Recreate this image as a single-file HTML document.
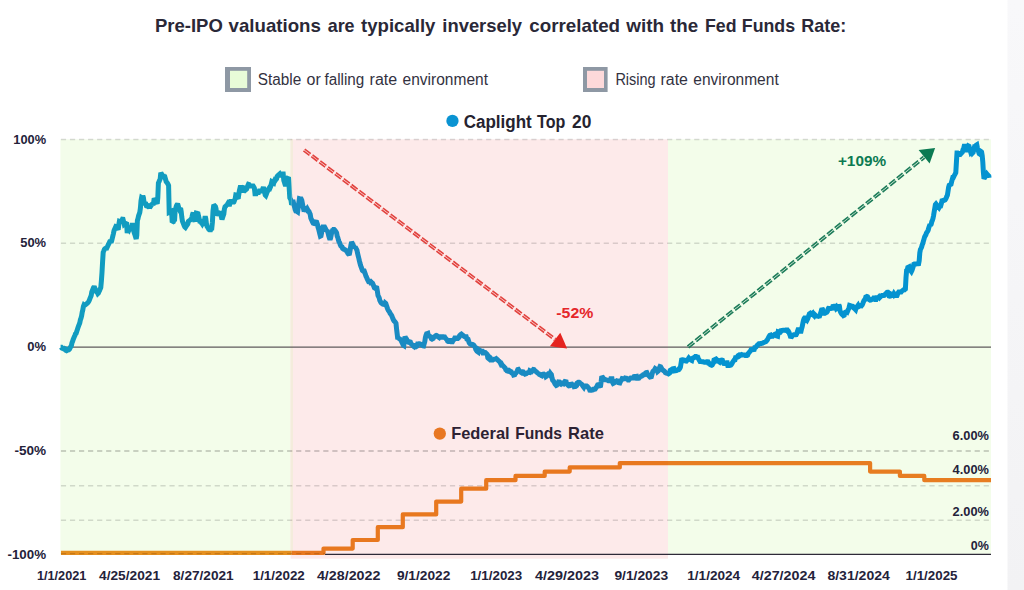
<!DOCTYPE html>
<html><head><meta charset="utf-8">
<style>
html,body{margin:0;padding:0;background:#fff;}
body{width:1024px;height:590px;overflow:hidden;position:relative;font-family:"Liberation Sans",sans-serif;}
svg{position:absolute;left:0;top:0;}
text{font-family:"Liberation Sans",sans-serif;}
</style></head><body>
<svg width="1024" height="590" viewBox="0 0 1024 590">
<defs>
<clipPath id="c1"><rect x="0" y="0" width="291.7" height="590"/></clipPath>
<clipPath id="c2"><rect x="291.7" y="0" width="376.3" height="590"/></clipPath>
<clipPath id="c3"><rect x="668" y="0" width="356" height="590"/></clipPath>
<linearGradient id="sg" x1="0" y1="0" x2="0" y2="1"><stop offset="0" stop-color="#f8f8fa"/><stop offset="1" stop-color="#f2f2f4"/></linearGradient>
</defs>
<rect x="0" y="0" width="1024" height="590" fill="#ffffff"/>
<rect x="1007.5" y="0" width="16.5" height="590" fill="url(#sg)"/>
<!-- regions -->
<rect x="60.4" y="139.3" width="232.6" height="415.5" fill="#f3fdea"/>
<rect x="668" y="139.3" width="323" height="415.5" fill="#f3fdea"/>
<rect x="290.6" y="139.3" width="377.4" height="419.4" fill="#fdeaea"/>
<rect x="290.6" y="139.3" width="2.4" height="415.5" fill="#f4ecdc"/>
<!-- gridlines -->
<g stroke="#000" stroke-opacity="0.14" stroke-width="1.5" stroke-dasharray="5.2 3.847" fill="none">
<line x1="60.9" y1="139.6" x2="991" y2="139.6"/>
<line x1="60.9" y1="243.25" x2="991" y2="243.25"/>
<line x1="60.9" y1="485.7" x2="991" y2="485.7"/>
<line x1="60.9" y1="520.2" x2="991" y2="520.2"/>
</g>
<line x1="60.9" y1="451.0" x2="991" y2="451.0" stroke="#000" stroke-opacity="0.24" stroke-width="1.6" stroke-dasharray="5.2 3.847"/>
<!-- axis lines -->
<line x1="61" y1="347" x2="991" y2="347" stroke="#5f5a5c" stroke-width="1.25"/>
<line x1="325" y1="554.3" x2="991" y2="554.3" stroke="#2e2a38" stroke-width="1.15"/>
<!-- ffr -->
<g fill="none" stroke-width="4.2" stroke-linejoin="round">
<path d="M61.0,552.9 L323.5,552.9 L323.5,548.6 L352.7,548.6 L352.7,540.0 L377.8,540.0 L377.8,527.2 L402.8,527.2 L402.8,514.4 L436.2,514.4 L436.2,501.6 L461.2,501.6 L461.2,488.7 L486.2,488.7 L486.2,480.2 L515.5,480.2 L515.5,475.9 L544.7,475.9 L544.7,471.6 L569.7,471.6 L569.7,467.4 L619.8,467.4 L619.8,463.1 L870.1,463.1 L870.1,471.6 L899.9,471.6 L899.9,475.9 L924.3,475.9 L924.3,480.2 L991.0,480.2" stroke="#e5901f" clip-path="url(#c1)"/>
<path d="M61.0,552.9 L323.5,552.9 L323.5,548.6 L352.7,548.6 L352.7,540.0 L377.8,540.0 L377.8,527.2 L402.8,527.2 L402.8,514.4 L436.2,514.4 L436.2,501.6 L461.2,501.6 L461.2,488.7 L486.2,488.7 L486.2,480.2 L515.5,480.2 L515.5,475.9 L544.7,475.9 L544.7,471.6 L569.7,471.6 L569.7,467.4 L619.8,467.4 L619.8,463.1 L870.1,463.1 L870.1,471.6 L899.9,471.6 L899.9,475.9 L924.3,475.9 L924.3,480.2 L991.0,480.2" stroke="#e8781f" clip-path="url(#c2)"/>
<path d="M61.0,552.9 L323.5,552.9 L323.5,548.6 L352.7,548.6 L352.7,540.0 L377.8,540.0 L377.8,527.2 L402.8,527.2 L402.8,514.4 L436.2,514.4 L436.2,501.6 L461.2,501.6 L461.2,488.7 L486.2,488.7 L486.2,480.2 L515.5,480.2 L515.5,475.9 L544.7,475.9 L544.7,471.6 L569.7,471.6 L569.7,467.4 L619.8,467.4 L619.8,463.1 L870.1,463.1 L870.1,471.6 L899.9,471.6 L899.9,475.9 L924.3,475.9 L924.3,480.2 L991.0,480.2" stroke="#e77d21" clip-path="url(#c3)"/>
</g>
<line x1="60.9" y1="553.7" x2="325" y2="553.7" stroke="#7a3a00" stroke-opacity="0.28" stroke-width="1.3" stroke-dasharray="5.2 3.847"/>
<!-- blue -->
<g fill="none" stroke-width="5" stroke-linejoin="miter" stroke-miterlimit="2" stroke-linecap="butt">
<path d="M60.6,347.2 L61.2,347.2 L61.8,348.1 L62.4,348.4 L63.0,348.5 L63.6,348.8 L64.2,348.4 L64.8,348.7 L65.4,348.9 L66.0,350.4 L66.6,350.7 L67.2,350.4 L67.8,349.9 L68.4,349.4 L69.0,349.5 L69.6,348.9 L70.2,347.7 L70.8,346.6 L71.4,345.6 L72.0,342.7 L72.6,341.3 L73.2,339.4 L73.8,338.0 L74.4,336.6 L75.0,335.2 L75.6,333.6 L76.2,333.2 L76.8,331.3 L77.4,329.4 L78.0,327.5 L78.6,325.9 L79.2,324.3 L79.8,322.7 L80.4,319.8 L81.0,318.2 L81.6,315.9 L82.2,312.3 L82.8,310.0 L83.4,306.4 L84.0,304.9 L84.6,305.3 L85.2,304.8 L85.8,304.4 L86.4,303.9 L87.0,303.5 L87.6,303.0 L88.2,302.3 L88.8,301.4 L89.4,300.0 L90.0,298.3 L90.6,296.9 L91.2,295.5 L91.8,291.9 L92.4,290.4 L93.0,288.9 L93.6,287.5 L94.2,286.6 L94.8,288.0 L95.4,289.4 L96.0,290.8 L96.6,292.0 L97.2,292.4 L97.8,293.6 L98.4,293.0 L99.0,291.6 L99.6,290.4 L100.2,288.9 L100.8,287.5 L101.4,280.7 L102.0,272.4 L102.6,261.6 L103.2,252.3 L103.8,250.9 L104.4,249.4 L105.0,248.7 L105.6,248.3 L106.2,247.9 L106.8,248.0 L107.4,246.7 L108.0,245.4 L108.6,244.2 L109.2,242.9 L109.8,241.7 L110.4,240.4 L111.0,242.6 L111.6,240.9 L112.2,238.6 L112.8,236.2 L113.4,233.8 L114.0,230.7 L114.6,229.3 L115.2,227.9 L115.8,226.5 L116.4,226.7 L117.0,227.6 L117.6,228.7 L118.2,229.7 L118.8,224.6 L119.4,221.3 L120.0,221.5 L120.6,221.2 L121.2,220.8 L121.8,220.5 L122.4,219.2 L123.0,219.3 L123.6,221.7 L124.2,224.2 L124.8,223.7 L125.4,223.3 L126.0,222.9 L126.6,222.5 L127.2,233.0 L127.8,230.5 L128.4,229.1 L129.0,229.9 L129.6,228.5 L130.2,228.0 L130.8,228.0 L131.4,228.0 L132.0,225.3 L132.6,225.3 L133.2,229.3 L133.8,231.2 L134.4,233.2 L135.0,235.1 L135.6,237.0 L136.2,238.9 L136.8,235.2 L137.4,220.4 L138.0,218.6 L138.6,215.8 L139.2,214.1 L139.8,212.3 L140.4,208.2 L141.0,200.9 L141.6,197.7 L142.2,198.1 L142.8,196.0 L143.4,197.6 L144.0,201.8 L144.6,203.4 L145.2,203.6 L145.8,203.8 L146.4,205.9 L147.0,206.1 L147.6,206.3 L148.2,206.2 L148.8,207.0 L149.4,207.8 L150.0,206.1 L150.6,206.3 L151.2,205.4 L151.8,204.5 L152.4,203.6 L153.0,205.0 L153.6,202.9 L154.2,198.2 L154.8,199.2 L155.4,200.3 L156.0,201.3 L156.6,202.7 L157.2,203.7 L157.8,197.7 L158.4,183.1 L159.0,181.7 L159.6,180.3 L160.2,178.9 L160.8,172.7 L161.4,173.8 L162.0,174.9 L162.6,176.0 L163.2,174.9 L163.8,176.2 L164.4,175.1 L165.0,177.3 L165.6,179.5 L166.2,181.7 L166.8,182.3 L167.4,183.2 L168.0,184.2 L168.6,185.5 L169.2,212.2 L169.8,211.9 L170.4,211.8 L171.0,211.4 L171.6,211.1 L172.2,222.3 L172.8,221.9 L173.4,221.6 L174.0,219.9 L174.6,219.6 L175.2,209.3 L175.8,208.0 L176.4,206.0 L177.0,204.7 L177.6,203.9 L178.2,205.7 L178.8,207.9 L179.4,209.3 L180.0,208.7 L180.6,208.2 L181.2,211.7 L181.8,217.2 L182.4,221.0 L183.0,222.6 L183.6,224.2 L184.2,225.8 L184.8,227.0 L185.4,227.5 L186.0,226.6 L186.6,225.7 L187.2,224.8 L187.8,223.9 L188.4,221.4 L189.0,220.9 L189.6,220.4 L190.2,220.0 L190.8,219.5 L191.4,219.0 L192.0,216.8 L192.6,214.2 L193.2,212.6 L193.8,215.9 L194.4,219.9 L195.0,221.5 L195.6,215.4 L196.2,213.1 L196.8,213.3 L197.4,213.4 L198.0,213.6 L198.6,216.4 L199.2,218.9 L199.8,221.3 L200.4,221.4 L201.0,222.4 L201.6,222.8 L202.2,223.7 L202.8,222.5 L203.4,223.5 L204.0,223.0 L204.6,219.7 L205.2,216.3 L205.8,218.8 L206.4,223.6 L207.0,226.3 L207.6,227.3 L208.2,228.3 L208.8,229.3 L209.4,229.8 L210.0,229.8 L210.6,229.8 L211.2,227.9 L211.8,227.9 L212.4,222.2 L213.0,211.0 L213.6,206.3 L214.2,206.1 L214.8,205.9 L215.4,206.5 L216.0,208.6 L216.6,213.7 L217.2,213.9 L217.8,213.7 L218.4,213.4 L219.0,213.2 L219.6,213.8 L220.2,213.6 L220.8,214.7 L221.4,217.1 L222.0,219.5 L222.6,217.6 L223.2,215.8 L223.8,214.1 L224.4,209.0 L225.0,206.9 L225.6,206.3 L226.2,205.6 L226.8,205.0 L227.4,204.4 L228.0,203.4 L228.6,204.0 L229.2,206.1 L229.8,204.0 L230.4,201.9 L231.0,199.8 L231.6,201.0 L232.2,202.2 L232.8,203.4 L233.4,202.0 L234.0,201.8 L234.6,200.2 L235.2,198.6 L235.8,195.0 L236.4,195.1 L237.0,197.1 L237.6,197.9 L238.2,198.7 L238.8,194.5 L239.4,190.6 L240.0,188.1 L240.6,185.7 L241.2,187.6 L241.8,189.1 L242.4,190.7 L243.0,191.7 L243.6,190.3 L244.2,187.9 L244.8,188.1 L245.4,188.0 L246.0,189.6 L246.6,189.1 L247.2,187.3 L247.8,185.8 L248.4,184.4 L249.0,184.6 L249.6,185.9 L250.2,187.1 L250.8,186.1 L251.4,186.1 L252.0,186.1 L252.6,186.1 L253.2,186.1 L253.8,187.0 L254.4,188.2 L255.0,193.7 L255.6,193.7 L256.2,193.7 L256.8,192.5 L257.4,192.5 L258.0,192.5 L258.6,192.5 L259.2,191.1 L259.8,191.1 L260.4,191.1 L261.0,191.1 L261.6,192.4 L262.2,190.6 L262.8,188.8 L263.4,187.0 L264.0,189.4 L264.6,192.2 L265.2,194.9 L265.8,195.5 L266.4,194.0 L267.0,192.4 L267.6,191.2 L268.2,190.3 L268.8,188.6 L269.4,187.7 L270.0,188.1 L270.6,186.7 L271.2,184.3 L271.8,181.8 L272.4,182.2 L273.0,183.3 L273.6,183.5 L274.2,181.1 L274.8,179.9 L275.4,180.3 L276.0,179.4 L276.6,178.8 L277.2,176.3 L277.8,175.7 L278.4,175.1 L279.0,174.5 L279.6,174.0 L280.2,175.2 L280.8,175.2 L281.4,175.2 L282.0,175.2 L282.6,174.0 L283.2,174.0 L283.8,180.5 L284.4,182.3 L285.0,184.1 L285.6,185.9 L286.2,184.1 L286.8,179.2 L287.4,178.4 L288.0,178.7 L288.6,178.9 L289.2,188.2 L289.8,197.8 L290.4,199.0 L291.0,200.2 L291.6,204.6 L292.2,203.8 L292.8,202.6 L293.4,202.4 L294.0,204.8 L294.6,207.2 L295.2,209.6 L295.8,211.0 L296.4,211.1 L297.0,211.5 L297.6,211.9 L298.2,207.7 L298.8,202.8 L299.4,198.7 L300.0,198.9 L300.6,199.1 L301.2,199.1 L301.8,200.3 L302.4,203.4 L303.0,206.6 L303.6,209.1 L304.2,208.9 L304.8,209.6 L305.4,209.4 L306.0,209.0 L306.6,209.7 L307.2,208.8 L307.8,209.9 L308.4,211.1 L309.0,211.5 L309.6,212.9 L310.2,214.3 L310.8,218.0 L311.4,219.4 L312.0,220.7 L312.6,222.1 L313.2,223.2 L313.8,223.4 L314.4,222.8 L315.0,222.2 L315.6,221.6 L316.2,220.8 L316.8,222.6 L317.4,224.3 L318.0,227.0 L318.6,229.0 L319.2,231.4 L319.8,233.8 L320.4,236.2 L321.0,235.9 L321.6,232.8 L322.2,228.5 L322.8,226.9 L323.4,226.9 L324.0,226.9 L324.6,226.9 L325.2,228.0 L325.8,229.3 L326.4,230.9 L327.0,230.1 L327.6,231.7 L328.2,233.4 L328.8,236.1 L329.4,237.9 L330.0,239.7 L330.6,238.1 L331.2,235.0 L331.8,232.3 L332.4,230.7 L333.0,230.7 L333.6,229.5 L334.2,229.5 L334.8,230.1 L335.4,230.9 L336.0,231.8 L336.6,232.9 L337.2,236.2 L337.8,237.5 L338.4,239.8 L339.0,241.9 L339.6,242.6 L340.2,244.7 L340.8,245.9 L341.4,246.4 L342.0,246.8 L342.6,248.5 L343.2,248.9 L343.8,248.9 L344.4,249.4 L345.0,249.9 L345.6,250.0 L346.2,250.8 L346.8,251.5 L347.4,252.3 L348.0,253.5 L348.6,254.2 L349.2,255.0 L349.8,252.1 L350.4,248.5 L351.0,244.7 L351.6,241.9 L352.2,243.1 L352.8,244.3 L353.4,245.5 L354.0,246.7 L354.6,247.9 L355.2,246.8 L355.8,248.0 L356.4,249.2 L357.0,250.4 L357.6,253.4 L358.2,255.8 L358.8,258.2 L359.4,260.9 L360.0,263.3 L360.6,265.4 L361.2,267.2 L361.8,268.7 L362.4,270.5 L363.0,270.9 L363.6,270.9 L364.2,270.9 L364.8,272.6 L365.4,274.4 L366.0,276.2 L366.6,277.4 L367.2,278.9 L367.8,280.1 L368.4,281.3 L369.0,281.1 L369.6,281.3 L370.2,281.3 L370.8,283.0 L371.4,283.0 L372.0,282.8 L372.6,283.3 L373.2,284.8 L373.8,286.3 L374.4,287.8 L375.0,288.2 L375.6,287.9 L376.2,287.6 L376.8,287.8 L377.4,291.3 L378.0,295.5 L378.6,296.7 L379.2,297.9 L379.8,300.4 L380.4,301.6 L381.0,302.6 L381.6,303.2 L382.2,303.4 L382.8,304.1 L383.4,304.3 L384.0,304.4 L384.6,304.6 L385.2,303.0 L385.8,303.5 L386.4,305.3 L387.0,307.1 L387.6,308.9 L388.2,310.2 L388.8,311.0 L389.4,311.8 L390.0,313.1 L390.6,313.9 L391.2,314.7 L391.8,315.9 L392.4,317.4 L393.0,318.9 L393.6,320.2 L394.2,321.1 L394.8,321.5 L395.4,322.4 L396.0,323.4 L396.6,329.2 L397.2,334.1 L397.8,339.1 L398.4,338.1 L399.0,338.5 L399.6,338.9 L400.2,339.3 L400.8,339.7 L401.4,341.3 L402.0,342.5 L402.6,343.8 L403.2,345.1 L403.8,345.5 L404.4,340.6 L405.0,336.5 L405.6,337.7 L406.2,338.5 L406.8,339.7 L407.4,340.9 L408.0,341.6 L408.6,342.3 L409.2,342.5 L409.8,341.9 L410.4,342.1 L411.0,343.6 L411.6,344.2 L412.2,344.8 L412.8,345.4 L413.4,346.0 L414.0,345.4 L414.6,345.4 L415.2,346.5 L415.8,346.0 L416.4,346.5 L417.0,346.1 L417.6,344.0 L418.2,344.0 L418.8,343.8 L419.4,343.8 L420.0,343.9 L420.6,344.2 L421.2,344.5 L421.8,345.0 L422.4,345.5 L423.0,345.8 L423.6,345.9 L424.2,343.7 L424.8,341.6 L425.4,337.4 L426.0,335.2 L426.6,333.7 L427.2,333.5 L427.8,333.3 L428.4,335.7 L429.0,335.7 L429.6,336.2 L430.2,336.6 L430.8,337.1 L431.4,338.8 L432.0,339.1 L432.6,338.8 L433.2,338.5 L433.8,337.0 L434.4,336.7 L435.0,336.4 L435.6,335.7 L436.2,335.4 L436.8,335.6 L437.4,336.0 L438.0,336.4 L438.6,337.2 L439.2,337.6 L439.8,336.8 L440.4,336.8 L441.0,337.2 L441.6,337.2 L442.2,337.2 L442.8,336.7 L443.4,336.7 L444.0,336.9 L444.6,336.9 L445.2,338.0 L445.8,338.6 L446.4,339.2 L447.0,339.8 L447.6,341.1 L448.2,341.4 L448.8,341.4 L449.4,341.4 L450.0,340.5 L450.6,340.5 L451.2,340.5 L451.8,341.8 L452.4,341.8 L453.0,340.6 L453.6,340.0 L454.2,339.4 L454.8,338.1 L455.4,338.1 L456.0,338.1 L456.6,338.1 L457.2,338.6 L457.8,338.6 L458.4,338.0 L459.0,337.4 L459.6,335.7 L460.2,335.1 L460.8,334.5 L461.4,334.1 L462.0,334.6 L462.6,335.2 L463.2,335.7 L463.8,336.1 L464.4,336.6 L465.0,336.8 L465.6,336.8 L466.2,336.8 L466.8,338.8 L467.4,338.8 L468.0,339.2 L468.6,341.1 L469.2,342.9 L469.8,343.4 L470.4,344.2 L471.0,344.4 L471.6,344.7 L472.2,344.9 L472.8,344.6 L473.4,344.9 L474.0,345.4 L474.6,346.4 L475.2,347.5 L475.8,349.4 L476.4,350.4 L477.0,351.3 L477.6,351.7 L478.2,352.1 L478.8,349.6 L479.4,350.0 L480.0,350.3 L480.6,350.7 L481.2,351.3 L481.8,351.3 L482.4,351.3 L483.0,353.0 L483.6,353.0 L484.2,353.0 L484.8,352.5 L485.4,352.6 L486.0,353.2 L486.6,353.8 L487.2,354.4 L487.8,357.7 L488.4,358.3 L489.0,358.8 L489.6,357.1 L490.2,357.6 L490.8,359.1 L491.4,359.6 L492.0,360.1 L492.6,360.1 L493.2,359.5 L493.8,359.4 L494.4,359.2 L495.0,359.1 L495.6,359.0 L496.2,358.6 L496.8,359.2 L497.4,359.7 L498.0,360.3 L498.6,360.9 L499.2,361.4 L499.8,362.0 L500.4,363.2 L501.0,364.4 L501.6,364.0 L502.2,365.1 L502.8,365.6 L503.4,366.2 L504.0,366.8 L504.6,367.4 L505.2,368.0 L505.8,369.7 L506.4,370.0 L507.0,370.9 L507.6,371.1 L508.2,371.2 L508.8,371.4 L509.4,370.6 L510.0,371.0 L510.6,371.4 L511.2,371.7 L511.8,373.0 L512.4,373.4 L513.0,373.5 L513.6,375.0 L514.2,374.8 L514.8,374.6 L515.4,373.4 L516.0,373.0 L516.6,372.0 L517.2,371.0 L517.8,369.6 L518.4,369.4 L519.0,370.4 L519.6,371.0 L520.2,371.6 L520.8,372.2 L521.4,372.6 L522.0,371.7 L522.6,371.8 L523.2,371.9 L523.8,373.4 L524.4,373.6 L525.0,374.1 L525.6,373.9 L526.2,373.7 L526.8,373.1 L527.4,372.8 L528.0,372.6 L528.6,372.4 L529.2,372.5 L529.8,370.8 L530.4,371.1 L531.0,371.4 L531.6,371.7 L532.2,371.1 L532.8,370.3 L533.4,369.5 L534.0,369.6 L534.6,370.3 L535.2,370.8 L535.8,371.4 L536.4,371.9 L537.0,372.5 L537.6,373.0 L538.2,373.4 L538.8,373.7 L539.4,374.5 L540.0,374.8 L540.6,375.1 L541.2,375.4 L541.8,375.7 L542.4,374.4 L543.0,374.3 L543.6,374.2 L544.2,374.9 L544.8,374.8 L545.4,374.7 L546.0,376.5 L546.6,376.1 L547.2,375.2 L547.8,374.5 L548.4,373.7 L549.0,373.7 L549.6,374.5 L550.2,373.2 L550.8,374.0 L551.4,374.7 L552.0,377.9 L552.6,380.1 L553.2,380.6 L553.8,381.8 L554.4,382.6 L555.0,384.0 L555.6,384.8 L556.2,385.5 L556.8,385.2 L557.4,384.5 L558.0,383.7 L558.6,382.0 L559.2,382.1 L559.8,383.7 L560.4,384.0 L561.0,382.9 L561.6,383.2 L562.2,383.5 L562.8,383.8 L563.4,383.9 L564.0,382.6 L564.6,381.8 L565.2,381.0 L565.8,380.2 L566.4,383.0 L567.0,384.1 L567.6,384.2 L568.2,385.3 L568.8,385.8 L569.4,385.7 L570.0,384.4 L570.6,384.4 L571.2,384.3 L571.8,384.2 L572.4,385.1 L573.0,385.0 L573.6,385.0 L574.2,386.7 L574.8,386.6 L575.4,386.5 L576.0,386.2 L576.6,385.7 L577.2,383.1 L577.8,382.7 L578.4,382.3 L579.0,382.3 L579.6,382.6 L580.2,383.3 L580.8,383.7 L581.4,384.0 L582.0,384.6 L582.6,385.6 L583.2,386.4 L583.8,387.2 L584.4,385.9 L585.0,385.9 L585.6,386.1 L586.2,386.1 L586.8,386.1 L587.4,386.5 L588.0,387.4 L588.6,388.0 L589.2,388.6 L589.8,390.2 L590.4,390.3 L591.0,390.3 L591.6,390.2 L592.2,390.1 L592.8,390.0 L593.4,389.3 L594.0,389.3 L594.6,389.2 L595.2,389.1 L595.8,388.0 L596.4,387.3 L597.0,386.1 L597.6,384.9 L598.2,384.8 L598.8,384.6 L599.4,385.8 L600.0,385.7 L600.6,385.5 L601.2,381.3 L601.8,376.3 L602.4,377.0 L603.0,377.7 L603.6,378.5 L604.2,379.3 L604.8,379.6 L605.4,379.5 L606.0,379.7 L606.6,380.0 L607.2,380.2 L607.8,380.4 L608.4,380.8 L609.0,380.8 L609.6,380.8 L610.2,380.8 L610.8,378.8 L611.4,378.8 L612.0,378.8 L612.6,382.3 L613.2,383.4 L613.8,383.1 L614.4,382.7 L615.0,382.2 L615.6,381.8 L616.2,381.2 L616.8,380.8 L617.4,381.0 L618.0,381.1 L618.6,382.7 L619.2,382.9 L619.8,383.0 L620.4,381.5 L621.0,380.6 L621.6,379.9 L622.2,378.5 L622.8,378.6 L623.4,378.7 L624.0,378.8 L624.6,378.8 L625.2,378.0 L625.8,378.1 L626.4,378.2 L627.0,378.5 L627.6,379.0 L628.2,380.0 L628.8,380.0 L629.4,379.3 L630.0,378.5 L630.6,378.0 L631.2,378.0 L631.8,378.0 L632.4,378.0 L633.0,377.9 L633.6,377.9 L634.2,376.6 L634.8,376.5 L635.4,376.5 L636.0,376.5 L636.6,376.4 L637.2,378.2 L637.8,378.2 L638.4,378.2 L639.0,378.1 L639.6,377.4 L640.2,376.9 L640.8,376.4 L641.4,375.9 L642.0,375.9 L642.6,375.4 L643.2,374.7 L643.8,374.7 L644.4,374.7 L645.0,374.4 L645.6,373.0 L646.2,372.6 L646.8,372.5 L647.4,373.8 L648.0,375.0 L648.6,375.4 L649.2,376.2 L649.8,376.9 L650.4,377.5 L651.0,378.1 L651.6,375.8 L652.2,373.5 L652.8,371.7 L653.4,370.9 L654.0,370.5 L654.6,369.7 L655.2,368.6 L655.8,369.0 L656.4,369.5 L657.0,369.9 L657.6,371.6 L658.2,371.1 L658.8,369.3 L659.4,367.9 L660.0,366.5 L660.6,366.7 L661.2,367.9 L661.8,368.9 L662.4,369.9 L663.0,370.2 L663.6,370.7 L664.2,371.1 L664.8,371.6 L665.4,372.7 L666.0,373.1 L666.6,373.3 L667.2,373.3 L667.8,373.6 L668.4,373.9 L669.0,373.5 L669.6,373.0 L670.2,370.4 L670.8,370.0 L671.4,371.1 L672.0,370.6 L672.6,370.2 L673.2,368.7 L673.8,368.6 L674.4,370.9 L675.0,370.8 L675.6,370.7 L676.2,370.6 L676.8,370.4 L677.4,370.0 L678.0,369.9 L678.6,369.8 L679.2,368.6 L679.8,368.4 L680.4,367.3 L681.0,363.6 L681.6,359.9 L682.2,359.7 L682.8,359.8 L683.4,359.9 L684.0,360.0 L684.6,360.8 L685.2,360.9 L685.8,361.0 L686.4,361.1 L687.0,360.4 L687.6,359.8 L688.2,359.0 L688.8,358.1 L689.4,358.8 L690.0,359.2 L690.6,359.6 L691.2,360.1 L691.8,360.4 L692.4,358.4 L693.0,358.1 L693.6,357.8 L694.2,357.5 L694.8,357.1 L695.4,356.4 L696.0,356.4 L696.6,357.2 L697.2,357.2 L697.8,357.2 L698.4,358.7 L699.0,359.7 L699.6,360.8 L700.2,361.8 L700.8,362.9 L701.4,361.7 L702.0,361.7 L702.6,361.8 L703.2,361.8 L703.8,362.1 L704.4,362.2 L705.0,362.2 L705.6,362.3 L706.2,362.3 L706.8,361.7 L707.4,361.7 L708.0,361.8 L708.6,363.3 L709.2,363.4 L709.8,364.2 L710.4,364.7 L711.0,365.1 L711.6,365.3 L712.2,364.9 L712.8,363.9 L713.4,362.9 L714.0,360.0 L714.6,359.7 L715.2,359.4 L715.8,361.0 L716.4,360.7 L717.0,359.8 L717.6,360.4 L718.2,361.0 L718.8,361.6 L719.4,362.0 L720.0,360.6 L720.6,360.4 L721.2,360.2 L721.8,360.1 L722.4,360.3 L723.0,362.5 L723.6,363.4 L724.2,363.5 L724.8,363.5 L725.4,363.5 L726.0,362.8 L726.6,362.7 L727.2,362.7 L727.8,365.5 L728.4,365.5 L729.0,365.4 L729.6,365.5 L730.2,365.4 L730.8,365.2 L731.4,364.4 L732.0,363.6 L732.6,362.2 L733.2,361.4 L733.8,360.6 L734.4,359.8 L735.0,359.7 L735.6,357.5 L736.2,357.4 L736.8,357.2 L737.4,357.1 L738.0,355.8 L738.6,355.4 L739.2,356.2 L739.8,355.8 L740.4,355.3 L741.0,354.8 L741.6,354.6 L742.2,355.0 L742.8,355.0 L743.4,355.0 L744.0,355.0 L744.6,355.0 L745.2,355.4 L745.8,355.4 L746.4,355.4 L747.0,355.4 L747.6,355.1 L748.2,353.5 L748.8,352.8 L749.4,352.1 L750.0,351.3 L750.6,350.6 L751.2,349.6 L751.8,349.5 L752.4,349.4 L753.0,349.7 L753.6,349.6 L754.2,349.5 L754.8,347.5 L755.4,347.4 L756.0,347.1 L756.6,346.2 L757.2,345.3 L757.8,345.1 L758.4,344.2 L759.0,343.7 L759.6,343.6 L760.2,343.5 L760.8,343.6 L761.4,343.4 L762.0,343.3 L762.6,343.1 L763.2,342.8 L763.8,342.5 L764.4,342.2 L765.0,342.0 L765.6,341.7 L766.2,341.4 L766.8,340.4 L767.4,339.8 L768.0,338.6 L768.6,337.4 L769.2,336.2 L769.8,335.3 L770.4,335.1 L771.0,336.5 L771.6,336.4 L772.2,336.2 L772.8,336.2 L773.4,335.6 L774.0,335.0 L774.6,334.4 L775.2,334.2 L775.8,333.9 L776.4,334.1 L777.0,336.0 L777.6,336.2 L778.2,331.9 L778.8,332.1 L779.4,332.3 L780.0,331.5 L780.6,331.8 L781.2,331.1 L781.8,330.4 L782.4,330.4 L783.0,330.3 L783.6,330.3 L784.2,330.3 L784.8,330.3 L785.4,330.4 L786.0,330.0 L786.6,330.0 L787.2,330.0 L787.8,331.3 L788.4,331.3 L789.0,332.4 L789.6,334.0 L790.2,335.7 L790.8,337.9 L791.4,337.0 L792.0,336.1 L792.6,335.2 L793.2,335.1 L793.8,334.8 L794.4,334.8 L795.0,334.8 L795.6,334.8 L796.2,334.7 L796.8,333.6 L797.4,331.5 L798.0,329.8 L798.6,329.8 L799.2,329.8 L799.8,331.3 L800.4,331.3 L801.0,331.3 L801.6,328.7 L802.2,326.7 L802.8,323.6 L803.4,320.7 L804.0,318.9 L804.6,317.9 L805.2,317.9 L805.8,318.6 L806.4,319.4 L807.0,320.1 L807.6,318.9 L808.2,317.3 L808.8,315.7 L809.4,313.8 L810.0,313.4 L810.6,314.3 L811.2,313.9 L811.8,313.6 L812.4,313.2 L813.0,315.0 L813.6,315.3 L814.2,315.9 L814.8,314.7 L815.4,315.3 L816.0,315.9 L816.6,316.1 L817.2,316.1 L817.8,316.0 L818.4,316.3 L819.0,316.1 L819.6,316.0 L820.2,314.3 L820.8,312.4 L821.4,310.6 L822.0,308.4 L822.6,309.4 L823.2,312.1 L823.8,313.1 L824.4,313.0 L825.0,313.3 L825.6,313.0 L826.2,312.5 L826.8,312.2 L827.4,311.4 L828.0,309.1 L828.6,308.0 L829.2,307.0 L829.8,308.7 L830.4,308.6 L831.0,308.5 L831.6,308.4 L832.2,308.3 L832.8,306.5 L833.4,306.4 L834.0,306.3 L834.6,306.2 L835.2,307.2 L835.8,306.7 L836.4,308.5 L837.0,308.0 L837.6,307.5 L838.2,307.0 L838.8,304.8 L839.4,306.2 L840.0,310.7 L840.6,312.2 L841.2,313.2 L841.8,314.2 L842.4,314.7 L843.0,314.4 L843.6,315.5 L844.2,315.2 L844.8,312.6 L845.4,312.3 L846.0,312.0 L846.6,311.7 L847.2,312.1 L847.8,310.7 L848.4,309.3 L849.0,307.9 L849.6,305.4 L850.2,305.6 L850.8,305.9 L851.4,306.0 L852.0,306.1 L852.6,306.2 L853.2,307.4 L853.8,308.0 L854.4,308.4 L855.0,309.1 L855.6,309.7 L856.2,307.8 L856.8,307.0 L857.4,306.2 L858.0,305.4 L858.6,306.7 L859.2,306.4 L859.8,306.0 L860.4,305.6 L861.0,305.3 L861.6,305.6 L862.2,304.9 L862.8,303.5 L863.4,301.9 L864.0,300.5 L864.6,299.7 L865.2,299.4 L865.8,297.1 L866.4,296.8 L867.0,296.5 L867.6,296.7 L868.2,297.8 L868.8,298.8 L869.4,299.8 L870.0,300.2 L870.6,300.1 L871.2,299.8 L871.8,299.4 L872.4,299.1 L873.0,299.0 L873.6,298.0 L874.2,298.0 L874.8,298.0 L875.4,299.5 L876.0,299.5 L876.6,297.7 L877.2,297.7 L877.8,297.7 L878.4,297.4 L879.0,296.8 L879.6,297.6 L880.2,297.0 L880.8,296.5 L881.4,295.9 L882.0,295.4 L882.6,295.4 L883.2,295.5 L883.8,295.5 L884.4,295.3 L885.0,294.5 L885.6,294.0 L886.2,293.2 L886.8,292.5 L887.4,292.2 L888.0,292.2 L888.6,292.8 L889.2,296.0 L889.8,296.2 L890.4,296.1 L891.0,295.9 L891.6,294.0 L892.2,293.9 L892.8,294.1 L893.4,294.8 L894.0,293.6 L894.6,294.4 L895.2,295.2 L895.8,295.3 L896.4,296.9 L897.0,295.8 L897.6,293.9 L898.2,292.9 L898.8,291.9 L899.4,291.9 L900.0,291.9 L900.6,291.9 L901.2,291.9 L901.8,291.2 L902.4,290.7 L903.0,290.3 L903.6,289.8 L904.2,289.3 L904.8,289.6 L905.4,289.1 L906.0,277.6 L906.6,270.6 L907.2,270.3 L907.8,267.5 L908.4,267.2 L909.0,266.9 L909.6,269.1 L910.2,269.9 L910.8,270.7 L911.4,271.5 L912.0,270.3 L912.6,268.5 L913.2,266.6 L913.8,264.3 L914.4,264.0 L915.0,264.0 L915.6,263.9 L916.2,263.9 L916.8,263.8 L917.4,263.8 L918.0,263.8 L918.6,263.7 L919.2,260.6 L919.8,252.8 L920.4,249.5 L921.0,248.4 L921.6,247.2 L922.2,244.9 L922.8,243.4 L923.4,241.2 L924.0,239.1 L924.6,236.9 L925.2,235.9 L925.8,234.9 L926.4,233.1 L927.0,232.2 L927.6,231.2 L928.2,230.0 L928.8,227.7 L929.4,226.0 L930.0,224.2 L930.6,225.4 L931.2,224.2 L931.8,221.6 L932.4,220.4 L933.0,218.5 L933.6,215.4 L934.2,211.6 L934.8,208.2 L935.4,204.7 L936.0,204.0 L936.6,204.8 L937.2,205.4 L937.8,206.2 L938.4,207.0 L939.0,207.7 L939.6,206.6 L940.2,207.6 L940.8,205.6 L941.4,203.5 L942.0,200.7 L942.6,200.5 L943.2,200.3 L943.8,200.5 L944.4,200.3 L945.0,200.0 L945.6,199.2 L946.2,198.0 L946.8,196.3 L947.4,195.1 L948.0,191.4 L948.6,187.3 L949.2,185.2 L949.8,184.9 L950.4,184.6 L951.0,184.3 L951.6,181.8 L952.2,179.6 L952.8,177.4 L953.4,177.4 L954.0,176.2 L954.6,175.0 L955.2,173.8 L955.8,172.6 L956.4,162.5 L957.0,153.0 L957.6,153.0 L958.2,153.6 L958.8,153.6 L959.4,153.6 L960.0,153.6 L960.6,154.0 L961.2,153.3 L961.8,152.7 L962.4,152.0 L963.0,149.6 L963.6,148.9 L964.2,146.2 L964.8,146.2 L965.4,146.2 L966.0,149.9 L966.6,149.9 L967.2,147.4 L967.8,147.4 L968.4,145.9 L969.0,146.2 L969.6,148.4 L970.2,150.5 L970.8,152.5 L971.4,151.9 L972.0,151.3 L972.6,152.9 L973.2,152.3 L973.8,149.1 L974.4,147.1 L975.0,147.3 L975.6,146.4 L976.2,145.2 L976.8,144.8 L977.4,147.8 L978.0,150.0 L978.6,151.7 L979.2,153.8 L979.8,154.2 L980.4,151.2 L981.0,151.6 L981.6,152.1 L982.2,155.5 L982.8,162.1 L983.4,172.3 L984.0,178.8 L984.6,177.8 L985.2,176.8 L985.8,175.1 L986.4,175.3 L987.0,174.1 L987.6,174.8 L988.2,175.4 L988.8,176.0 L989.1,177.8" stroke="#119cc0" clip-path="url(#c1)"/>
<path d="M60.6,347.2 L61.2,347.2 L61.8,348.1 L62.4,348.4 L63.0,348.5 L63.6,348.8 L64.2,348.4 L64.8,348.7 L65.4,348.9 L66.0,350.4 L66.6,350.7 L67.2,350.4 L67.8,349.9 L68.4,349.4 L69.0,349.5 L69.6,348.9 L70.2,347.7 L70.8,346.6 L71.4,345.6 L72.0,342.7 L72.6,341.3 L73.2,339.4 L73.8,338.0 L74.4,336.6 L75.0,335.2 L75.6,333.6 L76.2,333.2 L76.8,331.3 L77.4,329.4 L78.0,327.5 L78.6,325.9 L79.2,324.3 L79.8,322.7 L80.4,319.8 L81.0,318.2 L81.6,315.9 L82.2,312.3 L82.8,310.0 L83.4,306.4 L84.0,304.9 L84.6,305.3 L85.2,304.8 L85.8,304.4 L86.4,303.9 L87.0,303.5 L87.6,303.0 L88.2,302.3 L88.8,301.4 L89.4,300.0 L90.0,298.3 L90.6,296.9 L91.2,295.5 L91.8,291.9 L92.4,290.4 L93.0,288.9 L93.6,287.5 L94.2,286.6 L94.8,288.0 L95.4,289.4 L96.0,290.8 L96.6,292.0 L97.2,292.4 L97.8,293.6 L98.4,293.0 L99.0,291.6 L99.6,290.4 L100.2,288.9 L100.8,287.5 L101.4,280.7 L102.0,272.4 L102.6,261.6 L103.2,252.3 L103.8,250.9 L104.4,249.4 L105.0,248.7 L105.6,248.3 L106.2,247.9 L106.8,248.0 L107.4,246.7 L108.0,245.4 L108.6,244.2 L109.2,242.9 L109.8,241.7 L110.4,240.4 L111.0,242.6 L111.6,240.9 L112.2,238.6 L112.8,236.2 L113.4,233.8 L114.0,230.7 L114.6,229.3 L115.2,227.9 L115.8,226.5 L116.4,226.7 L117.0,227.6 L117.6,228.7 L118.2,229.7 L118.8,224.6 L119.4,221.3 L120.0,221.5 L120.6,221.2 L121.2,220.8 L121.8,220.5 L122.4,219.2 L123.0,219.3 L123.6,221.7 L124.2,224.2 L124.8,223.7 L125.4,223.3 L126.0,222.9 L126.6,222.5 L127.2,233.0 L127.8,230.5 L128.4,229.1 L129.0,229.9 L129.6,228.5 L130.2,228.0 L130.8,228.0 L131.4,228.0 L132.0,225.3 L132.6,225.3 L133.2,229.3 L133.8,231.2 L134.4,233.2 L135.0,235.1 L135.6,237.0 L136.2,238.9 L136.8,235.2 L137.4,220.4 L138.0,218.6 L138.6,215.8 L139.2,214.1 L139.8,212.3 L140.4,208.2 L141.0,200.9 L141.6,197.7 L142.2,198.1 L142.8,196.0 L143.4,197.6 L144.0,201.8 L144.6,203.4 L145.2,203.6 L145.8,203.8 L146.4,205.9 L147.0,206.1 L147.6,206.3 L148.2,206.2 L148.8,207.0 L149.4,207.8 L150.0,206.1 L150.6,206.3 L151.2,205.4 L151.8,204.5 L152.4,203.6 L153.0,205.0 L153.6,202.9 L154.2,198.2 L154.8,199.2 L155.4,200.3 L156.0,201.3 L156.6,202.7 L157.2,203.7 L157.8,197.7 L158.4,183.1 L159.0,181.7 L159.6,180.3 L160.2,178.9 L160.8,172.7 L161.4,173.8 L162.0,174.9 L162.6,176.0 L163.2,174.9 L163.8,176.2 L164.4,175.1 L165.0,177.3 L165.6,179.5 L166.2,181.7 L166.8,182.3 L167.4,183.2 L168.0,184.2 L168.6,185.5 L169.2,212.2 L169.8,211.9 L170.4,211.8 L171.0,211.4 L171.6,211.1 L172.2,222.3 L172.8,221.9 L173.4,221.6 L174.0,219.9 L174.6,219.6 L175.2,209.3 L175.8,208.0 L176.4,206.0 L177.0,204.7 L177.6,203.9 L178.2,205.7 L178.8,207.9 L179.4,209.3 L180.0,208.7 L180.6,208.2 L181.2,211.7 L181.8,217.2 L182.4,221.0 L183.0,222.6 L183.6,224.2 L184.2,225.8 L184.8,227.0 L185.4,227.5 L186.0,226.6 L186.6,225.7 L187.2,224.8 L187.8,223.9 L188.4,221.4 L189.0,220.9 L189.6,220.4 L190.2,220.0 L190.8,219.5 L191.4,219.0 L192.0,216.8 L192.6,214.2 L193.2,212.6 L193.8,215.9 L194.4,219.9 L195.0,221.5 L195.6,215.4 L196.2,213.1 L196.8,213.3 L197.4,213.4 L198.0,213.6 L198.6,216.4 L199.2,218.9 L199.8,221.3 L200.4,221.4 L201.0,222.4 L201.6,222.8 L202.2,223.7 L202.8,222.5 L203.4,223.5 L204.0,223.0 L204.6,219.7 L205.2,216.3 L205.8,218.8 L206.4,223.6 L207.0,226.3 L207.6,227.3 L208.2,228.3 L208.8,229.3 L209.4,229.8 L210.0,229.8 L210.6,229.8 L211.2,227.9 L211.8,227.9 L212.4,222.2 L213.0,211.0 L213.6,206.3 L214.2,206.1 L214.8,205.9 L215.4,206.5 L216.0,208.6 L216.6,213.7 L217.2,213.9 L217.8,213.7 L218.4,213.4 L219.0,213.2 L219.6,213.8 L220.2,213.6 L220.8,214.7 L221.4,217.1 L222.0,219.5 L222.6,217.6 L223.2,215.8 L223.8,214.1 L224.4,209.0 L225.0,206.9 L225.6,206.3 L226.2,205.6 L226.8,205.0 L227.4,204.4 L228.0,203.4 L228.6,204.0 L229.2,206.1 L229.8,204.0 L230.4,201.9 L231.0,199.8 L231.6,201.0 L232.2,202.2 L232.8,203.4 L233.4,202.0 L234.0,201.8 L234.6,200.2 L235.2,198.6 L235.8,195.0 L236.4,195.1 L237.0,197.1 L237.6,197.9 L238.2,198.7 L238.8,194.5 L239.4,190.6 L240.0,188.1 L240.6,185.7 L241.2,187.6 L241.8,189.1 L242.4,190.7 L243.0,191.7 L243.6,190.3 L244.2,187.9 L244.8,188.1 L245.4,188.0 L246.0,189.6 L246.6,189.1 L247.2,187.3 L247.8,185.8 L248.4,184.4 L249.0,184.6 L249.6,185.9 L250.2,187.1 L250.8,186.1 L251.4,186.1 L252.0,186.1 L252.6,186.1 L253.2,186.1 L253.8,187.0 L254.4,188.2 L255.0,193.7 L255.6,193.7 L256.2,193.7 L256.8,192.5 L257.4,192.5 L258.0,192.5 L258.6,192.5 L259.2,191.1 L259.8,191.1 L260.4,191.1 L261.0,191.1 L261.6,192.4 L262.2,190.6 L262.8,188.8 L263.4,187.0 L264.0,189.4 L264.6,192.2 L265.2,194.9 L265.8,195.5 L266.4,194.0 L267.0,192.4 L267.6,191.2 L268.2,190.3 L268.8,188.6 L269.4,187.7 L270.0,188.1 L270.6,186.7 L271.2,184.3 L271.8,181.8 L272.4,182.2 L273.0,183.3 L273.6,183.5 L274.2,181.1 L274.8,179.9 L275.4,180.3 L276.0,179.4 L276.6,178.8 L277.2,176.3 L277.8,175.7 L278.4,175.1 L279.0,174.5 L279.6,174.0 L280.2,175.2 L280.8,175.2 L281.4,175.2 L282.0,175.2 L282.6,174.0 L283.2,174.0 L283.8,180.5 L284.4,182.3 L285.0,184.1 L285.6,185.9 L286.2,184.1 L286.8,179.2 L287.4,178.4 L288.0,178.7 L288.6,178.9 L289.2,188.2 L289.8,197.8 L290.4,199.0 L291.0,200.2 L291.6,204.6 L292.2,203.8 L292.8,202.6 L293.4,202.4 L294.0,204.8 L294.6,207.2 L295.2,209.6 L295.8,211.0 L296.4,211.1 L297.0,211.5 L297.6,211.9 L298.2,207.7 L298.8,202.8 L299.4,198.7 L300.0,198.9 L300.6,199.1 L301.2,199.1 L301.8,200.3 L302.4,203.4 L303.0,206.6 L303.6,209.1 L304.2,208.9 L304.8,209.6 L305.4,209.4 L306.0,209.0 L306.6,209.7 L307.2,208.8 L307.8,209.9 L308.4,211.1 L309.0,211.5 L309.6,212.9 L310.2,214.3 L310.8,218.0 L311.4,219.4 L312.0,220.7 L312.6,222.1 L313.2,223.2 L313.8,223.4 L314.4,222.8 L315.0,222.2 L315.6,221.6 L316.2,220.8 L316.8,222.6 L317.4,224.3 L318.0,227.0 L318.6,229.0 L319.2,231.4 L319.8,233.8 L320.4,236.2 L321.0,235.9 L321.6,232.8 L322.2,228.5 L322.8,226.9 L323.4,226.9 L324.0,226.9 L324.6,226.9 L325.2,228.0 L325.8,229.3 L326.4,230.9 L327.0,230.1 L327.6,231.7 L328.2,233.4 L328.8,236.1 L329.4,237.9 L330.0,239.7 L330.6,238.1 L331.2,235.0 L331.8,232.3 L332.4,230.7 L333.0,230.7 L333.6,229.5 L334.2,229.5 L334.8,230.1 L335.4,230.9 L336.0,231.8 L336.6,232.9 L337.2,236.2 L337.8,237.5 L338.4,239.8 L339.0,241.9 L339.6,242.6 L340.2,244.7 L340.8,245.9 L341.4,246.4 L342.0,246.8 L342.6,248.5 L343.2,248.9 L343.8,248.9 L344.4,249.4 L345.0,249.9 L345.6,250.0 L346.2,250.8 L346.8,251.5 L347.4,252.3 L348.0,253.5 L348.6,254.2 L349.2,255.0 L349.8,252.1 L350.4,248.5 L351.0,244.7 L351.6,241.9 L352.2,243.1 L352.8,244.3 L353.4,245.5 L354.0,246.7 L354.6,247.9 L355.2,246.8 L355.8,248.0 L356.4,249.2 L357.0,250.4 L357.6,253.4 L358.2,255.8 L358.8,258.2 L359.4,260.9 L360.0,263.3 L360.6,265.4 L361.2,267.2 L361.8,268.7 L362.4,270.5 L363.0,270.9 L363.6,270.9 L364.2,270.9 L364.8,272.6 L365.4,274.4 L366.0,276.2 L366.6,277.4 L367.2,278.9 L367.8,280.1 L368.4,281.3 L369.0,281.1 L369.6,281.3 L370.2,281.3 L370.8,283.0 L371.4,283.0 L372.0,282.8 L372.6,283.3 L373.2,284.8 L373.8,286.3 L374.4,287.8 L375.0,288.2 L375.6,287.9 L376.2,287.6 L376.8,287.8 L377.4,291.3 L378.0,295.5 L378.6,296.7 L379.2,297.9 L379.8,300.4 L380.4,301.6 L381.0,302.6 L381.6,303.2 L382.2,303.4 L382.8,304.1 L383.4,304.3 L384.0,304.4 L384.6,304.6 L385.2,303.0 L385.8,303.5 L386.4,305.3 L387.0,307.1 L387.6,308.9 L388.2,310.2 L388.8,311.0 L389.4,311.8 L390.0,313.1 L390.6,313.9 L391.2,314.7 L391.8,315.9 L392.4,317.4 L393.0,318.9 L393.6,320.2 L394.2,321.1 L394.8,321.5 L395.4,322.4 L396.0,323.4 L396.6,329.2 L397.2,334.1 L397.8,339.1 L398.4,338.1 L399.0,338.5 L399.6,338.9 L400.2,339.3 L400.8,339.7 L401.4,341.3 L402.0,342.5 L402.6,343.8 L403.2,345.1 L403.8,345.5 L404.4,340.6 L405.0,336.5 L405.6,337.7 L406.2,338.5 L406.8,339.7 L407.4,340.9 L408.0,341.6 L408.6,342.3 L409.2,342.5 L409.8,341.9 L410.4,342.1 L411.0,343.6 L411.6,344.2 L412.2,344.8 L412.8,345.4 L413.4,346.0 L414.0,345.4 L414.6,345.4 L415.2,346.5 L415.8,346.0 L416.4,346.5 L417.0,346.1 L417.6,344.0 L418.2,344.0 L418.8,343.8 L419.4,343.8 L420.0,343.9 L420.6,344.2 L421.2,344.5 L421.8,345.0 L422.4,345.5 L423.0,345.8 L423.6,345.9 L424.2,343.7 L424.8,341.6 L425.4,337.4 L426.0,335.2 L426.6,333.7 L427.2,333.5 L427.8,333.3 L428.4,335.7 L429.0,335.7 L429.6,336.2 L430.2,336.6 L430.8,337.1 L431.4,338.8 L432.0,339.1 L432.6,338.8 L433.2,338.5 L433.8,337.0 L434.4,336.7 L435.0,336.4 L435.6,335.7 L436.2,335.4 L436.8,335.6 L437.4,336.0 L438.0,336.4 L438.6,337.2 L439.2,337.6 L439.8,336.8 L440.4,336.8 L441.0,337.2 L441.6,337.2 L442.2,337.2 L442.8,336.7 L443.4,336.7 L444.0,336.9 L444.6,336.9 L445.2,338.0 L445.8,338.6 L446.4,339.2 L447.0,339.8 L447.6,341.1 L448.2,341.4 L448.8,341.4 L449.4,341.4 L450.0,340.5 L450.6,340.5 L451.2,340.5 L451.8,341.8 L452.4,341.8 L453.0,340.6 L453.6,340.0 L454.2,339.4 L454.8,338.1 L455.4,338.1 L456.0,338.1 L456.6,338.1 L457.2,338.6 L457.8,338.6 L458.4,338.0 L459.0,337.4 L459.6,335.7 L460.2,335.1 L460.8,334.5 L461.4,334.1 L462.0,334.6 L462.6,335.2 L463.2,335.7 L463.8,336.1 L464.4,336.6 L465.0,336.8 L465.6,336.8 L466.2,336.8 L466.8,338.8 L467.4,338.8 L468.0,339.2 L468.6,341.1 L469.2,342.9 L469.8,343.4 L470.4,344.2 L471.0,344.4 L471.6,344.7 L472.2,344.9 L472.8,344.6 L473.4,344.9 L474.0,345.4 L474.6,346.4 L475.2,347.5 L475.8,349.4 L476.4,350.4 L477.0,351.3 L477.6,351.7 L478.2,352.1 L478.8,349.6 L479.4,350.0 L480.0,350.3 L480.6,350.7 L481.2,351.3 L481.8,351.3 L482.4,351.3 L483.0,353.0 L483.6,353.0 L484.2,353.0 L484.8,352.5 L485.4,352.6 L486.0,353.2 L486.6,353.8 L487.2,354.4 L487.8,357.7 L488.4,358.3 L489.0,358.8 L489.6,357.1 L490.2,357.6 L490.8,359.1 L491.4,359.6 L492.0,360.1 L492.6,360.1 L493.2,359.5 L493.8,359.4 L494.4,359.2 L495.0,359.1 L495.6,359.0 L496.2,358.6 L496.8,359.2 L497.4,359.7 L498.0,360.3 L498.6,360.9 L499.2,361.4 L499.8,362.0 L500.4,363.2 L501.0,364.4 L501.6,364.0 L502.2,365.1 L502.8,365.6 L503.4,366.2 L504.0,366.8 L504.6,367.4 L505.2,368.0 L505.8,369.7 L506.4,370.0 L507.0,370.9 L507.6,371.1 L508.2,371.2 L508.8,371.4 L509.4,370.6 L510.0,371.0 L510.6,371.4 L511.2,371.7 L511.8,373.0 L512.4,373.4 L513.0,373.5 L513.6,375.0 L514.2,374.8 L514.8,374.6 L515.4,373.4 L516.0,373.0 L516.6,372.0 L517.2,371.0 L517.8,369.6 L518.4,369.4 L519.0,370.4 L519.6,371.0 L520.2,371.6 L520.8,372.2 L521.4,372.6 L522.0,371.7 L522.6,371.8 L523.2,371.9 L523.8,373.4 L524.4,373.6 L525.0,374.1 L525.6,373.9 L526.2,373.7 L526.8,373.1 L527.4,372.8 L528.0,372.6 L528.6,372.4 L529.2,372.5 L529.8,370.8 L530.4,371.1 L531.0,371.4 L531.6,371.7 L532.2,371.1 L532.8,370.3 L533.4,369.5 L534.0,369.6 L534.6,370.3 L535.2,370.8 L535.8,371.4 L536.4,371.9 L537.0,372.5 L537.6,373.0 L538.2,373.4 L538.8,373.7 L539.4,374.5 L540.0,374.8 L540.6,375.1 L541.2,375.4 L541.8,375.7 L542.4,374.4 L543.0,374.3 L543.6,374.2 L544.2,374.9 L544.8,374.8 L545.4,374.7 L546.0,376.5 L546.6,376.1 L547.2,375.2 L547.8,374.5 L548.4,373.7 L549.0,373.7 L549.6,374.5 L550.2,373.2 L550.8,374.0 L551.4,374.7 L552.0,377.9 L552.6,380.1 L553.2,380.6 L553.8,381.8 L554.4,382.6 L555.0,384.0 L555.6,384.8 L556.2,385.5 L556.8,385.2 L557.4,384.5 L558.0,383.7 L558.6,382.0 L559.2,382.1 L559.8,383.7 L560.4,384.0 L561.0,382.9 L561.6,383.2 L562.2,383.5 L562.8,383.8 L563.4,383.9 L564.0,382.6 L564.6,381.8 L565.2,381.0 L565.8,380.2 L566.4,383.0 L567.0,384.1 L567.6,384.2 L568.2,385.3 L568.8,385.8 L569.4,385.7 L570.0,384.4 L570.6,384.4 L571.2,384.3 L571.8,384.2 L572.4,385.1 L573.0,385.0 L573.6,385.0 L574.2,386.7 L574.8,386.6 L575.4,386.5 L576.0,386.2 L576.6,385.7 L577.2,383.1 L577.8,382.7 L578.4,382.3 L579.0,382.3 L579.6,382.6 L580.2,383.3 L580.8,383.7 L581.4,384.0 L582.0,384.6 L582.6,385.6 L583.2,386.4 L583.8,387.2 L584.4,385.9 L585.0,385.9 L585.6,386.1 L586.2,386.1 L586.8,386.1 L587.4,386.5 L588.0,387.4 L588.6,388.0 L589.2,388.6 L589.8,390.2 L590.4,390.3 L591.0,390.3 L591.6,390.2 L592.2,390.1 L592.8,390.0 L593.4,389.3 L594.0,389.3 L594.6,389.2 L595.2,389.1 L595.8,388.0 L596.4,387.3 L597.0,386.1 L597.6,384.9 L598.2,384.8 L598.8,384.6 L599.4,385.8 L600.0,385.7 L600.6,385.5 L601.2,381.3 L601.8,376.3 L602.4,377.0 L603.0,377.7 L603.6,378.5 L604.2,379.3 L604.8,379.6 L605.4,379.5 L606.0,379.7 L606.6,380.0 L607.2,380.2 L607.8,380.4 L608.4,380.8 L609.0,380.8 L609.6,380.8 L610.2,380.8 L610.8,378.8 L611.4,378.8 L612.0,378.8 L612.6,382.3 L613.2,383.4 L613.8,383.1 L614.4,382.7 L615.0,382.2 L615.6,381.8 L616.2,381.2 L616.8,380.8 L617.4,381.0 L618.0,381.1 L618.6,382.7 L619.2,382.9 L619.8,383.0 L620.4,381.5 L621.0,380.6 L621.6,379.9 L622.2,378.5 L622.8,378.6 L623.4,378.7 L624.0,378.8 L624.6,378.8 L625.2,378.0 L625.8,378.1 L626.4,378.2 L627.0,378.5 L627.6,379.0 L628.2,380.0 L628.8,380.0 L629.4,379.3 L630.0,378.5 L630.6,378.0 L631.2,378.0 L631.8,378.0 L632.4,378.0 L633.0,377.9 L633.6,377.9 L634.2,376.6 L634.8,376.5 L635.4,376.5 L636.0,376.5 L636.6,376.4 L637.2,378.2 L637.8,378.2 L638.4,378.2 L639.0,378.1 L639.6,377.4 L640.2,376.9 L640.8,376.4 L641.4,375.9 L642.0,375.9 L642.6,375.4 L643.2,374.7 L643.8,374.7 L644.4,374.7 L645.0,374.4 L645.6,373.0 L646.2,372.6 L646.8,372.5 L647.4,373.8 L648.0,375.0 L648.6,375.4 L649.2,376.2 L649.8,376.9 L650.4,377.5 L651.0,378.1 L651.6,375.8 L652.2,373.5 L652.8,371.7 L653.4,370.9 L654.0,370.5 L654.6,369.7 L655.2,368.6 L655.8,369.0 L656.4,369.5 L657.0,369.9 L657.6,371.6 L658.2,371.1 L658.8,369.3 L659.4,367.9 L660.0,366.5 L660.6,366.7 L661.2,367.9 L661.8,368.9 L662.4,369.9 L663.0,370.2 L663.6,370.7 L664.2,371.1 L664.8,371.6 L665.4,372.7 L666.0,373.1 L666.6,373.3 L667.2,373.3 L667.8,373.6 L668.4,373.9 L669.0,373.5 L669.6,373.0 L670.2,370.4 L670.8,370.0 L671.4,371.1 L672.0,370.6 L672.6,370.2 L673.2,368.7 L673.8,368.6 L674.4,370.9 L675.0,370.8 L675.6,370.7 L676.2,370.6 L676.8,370.4 L677.4,370.0 L678.0,369.9 L678.6,369.8 L679.2,368.6 L679.8,368.4 L680.4,367.3 L681.0,363.6 L681.6,359.9 L682.2,359.7 L682.8,359.8 L683.4,359.9 L684.0,360.0 L684.6,360.8 L685.2,360.9 L685.8,361.0 L686.4,361.1 L687.0,360.4 L687.6,359.8 L688.2,359.0 L688.8,358.1 L689.4,358.8 L690.0,359.2 L690.6,359.6 L691.2,360.1 L691.8,360.4 L692.4,358.4 L693.0,358.1 L693.6,357.8 L694.2,357.5 L694.8,357.1 L695.4,356.4 L696.0,356.4 L696.6,357.2 L697.2,357.2 L697.8,357.2 L698.4,358.7 L699.0,359.7 L699.6,360.8 L700.2,361.8 L700.8,362.9 L701.4,361.7 L702.0,361.7 L702.6,361.8 L703.2,361.8 L703.8,362.1 L704.4,362.2 L705.0,362.2 L705.6,362.3 L706.2,362.3 L706.8,361.7 L707.4,361.7 L708.0,361.8 L708.6,363.3 L709.2,363.4 L709.8,364.2 L710.4,364.7 L711.0,365.1 L711.6,365.3 L712.2,364.9 L712.8,363.9 L713.4,362.9 L714.0,360.0 L714.6,359.7 L715.2,359.4 L715.8,361.0 L716.4,360.7 L717.0,359.8 L717.6,360.4 L718.2,361.0 L718.8,361.6 L719.4,362.0 L720.0,360.6 L720.6,360.4 L721.2,360.2 L721.8,360.1 L722.4,360.3 L723.0,362.5 L723.6,363.4 L724.2,363.5 L724.8,363.5 L725.4,363.5 L726.0,362.8 L726.6,362.7 L727.2,362.7 L727.8,365.5 L728.4,365.5 L729.0,365.4 L729.6,365.5 L730.2,365.4 L730.8,365.2 L731.4,364.4 L732.0,363.6 L732.6,362.2 L733.2,361.4 L733.8,360.6 L734.4,359.8 L735.0,359.7 L735.6,357.5 L736.2,357.4 L736.8,357.2 L737.4,357.1 L738.0,355.8 L738.6,355.4 L739.2,356.2 L739.8,355.8 L740.4,355.3 L741.0,354.8 L741.6,354.6 L742.2,355.0 L742.8,355.0 L743.4,355.0 L744.0,355.0 L744.6,355.0 L745.2,355.4 L745.8,355.4 L746.4,355.4 L747.0,355.4 L747.6,355.1 L748.2,353.5 L748.8,352.8 L749.4,352.1 L750.0,351.3 L750.6,350.6 L751.2,349.6 L751.8,349.5 L752.4,349.4 L753.0,349.7 L753.6,349.6 L754.2,349.5 L754.8,347.5 L755.4,347.4 L756.0,347.1 L756.6,346.2 L757.2,345.3 L757.8,345.1 L758.4,344.2 L759.0,343.7 L759.6,343.6 L760.2,343.5 L760.8,343.6 L761.4,343.4 L762.0,343.3 L762.6,343.1 L763.2,342.8 L763.8,342.5 L764.4,342.2 L765.0,342.0 L765.6,341.7 L766.2,341.4 L766.8,340.4 L767.4,339.8 L768.0,338.6 L768.6,337.4 L769.2,336.2 L769.8,335.3 L770.4,335.1 L771.0,336.5 L771.6,336.4 L772.2,336.2 L772.8,336.2 L773.4,335.6 L774.0,335.0 L774.6,334.4 L775.2,334.2 L775.8,333.9 L776.4,334.1 L777.0,336.0 L777.6,336.2 L778.2,331.9 L778.8,332.1 L779.4,332.3 L780.0,331.5 L780.6,331.8 L781.2,331.1 L781.8,330.4 L782.4,330.4 L783.0,330.3 L783.6,330.3 L784.2,330.3 L784.8,330.3 L785.4,330.4 L786.0,330.0 L786.6,330.0 L787.2,330.0 L787.8,331.3 L788.4,331.3 L789.0,332.4 L789.6,334.0 L790.2,335.7 L790.8,337.9 L791.4,337.0 L792.0,336.1 L792.6,335.2 L793.2,335.1 L793.8,334.8 L794.4,334.8 L795.0,334.8 L795.6,334.8 L796.2,334.7 L796.8,333.6 L797.4,331.5 L798.0,329.8 L798.6,329.8 L799.2,329.8 L799.8,331.3 L800.4,331.3 L801.0,331.3 L801.6,328.7 L802.2,326.7 L802.8,323.6 L803.4,320.7 L804.0,318.9 L804.6,317.9 L805.2,317.9 L805.8,318.6 L806.4,319.4 L807.0,320.1 L807.6,318.9 L808.2,317.3 L808.8,315.7 L809.4,313.8 L810.0,313.4 L810.6,314.3 L811.2,313.9 L811.8,313.6 L812.4,313.2 L813.0,315.0 L813.6,315.3 L814.2,315.9 L814.8,314.7 L815.4,315.3 L816.0,315.9 L816.6,316.1 L817.2,316.1 L817.8,316.0 L818.4,316.3 L819.0,316.1 L819.6,316.0 L820.2,314.3 L820.8,312.4 L821.4,310.6 L822.0,308.4 L822.6,309.4 L823.2,312.1 L823.8,313.1 L824.4,313.0 L825.0,313.3 L825.6,313.0 L826.2,312.5 L826.8,312.2 L827.4,311.4 L828.0,309.1 L828.6,308.0 L829.2,307.0 L829.8,308.7 L830.4,308.6 L831.0,308.5 L831.6,308.4 L832.2,308.3 L832.8,306.5 L833.4,306.4 L834.0,306.3 L834.6,306.2 L835.2,307.2 L835.8,306.7 L836.4,308.5 L837.0,308.0 L837.6,307.5 L838.2,307.0 L838.8,304.8 L839.4,306.2 L840.0,310.7 L840.6,312.2 L841.2,313.2 L841.8,314.2 L842.4,314.7 L843.0,314.4 L843.6,315.5 L844.2,315.2 L844.8,312.6 L845.4,312.3 L846.0,312.0 L846.6,311.7 L847.2,312.1 L847.8,310.7 L848.4,309.3 L849.0,307.9 L849.6,305.4 L850.2,305.6 L850.8,305.9 L851.4,306.0 L852.0,306.1 L852.6,306.2 L853.2,307.4 L853.8,308.0 L854.4,308.4 L855.0,309.1 L855.6,309.7 L856.2,307.8 L856.8,307.0 L857.4,306.2 L858.0,305.4 L858.6,306.7 L859.2,306.4 L859.8,306.0 L860.4,305.6 L861.0,305.3 L861.6,305.6 L862.2,304.9 L862.8,303.5 L863.4,301.9 L864.0,300.5 L864.6,299.7 L865.2,299.4 L865.8,297.1 L866.4,296.8 L867.0,296.5 L867.6,296.7 L868.2,297.8 L868.8,298.8 L869.4,299.8 L870.0,300.2 L870.6,300.1 L871.2,299.8 L871.8,299.4 L872.4,299.1 L873.0,299.0 L873.6,298.0 L874.2,298.0 L874.8,298.0 L875.4,299.5 L876.0,299.5 L876.6,297.7 L877.2,297.7 L877.8,297.7 L878.4,297.4 L879.0,296.8 L879.6,297.6 L880.2,297.0 L880.8,296.5 L881.4,295.9 L882.0,295.4 L882.6,295.4 L883.2,295.5 L883.8,295.5 L884.4,295.3 L885.0,294.5 L885.6,294.0 L886.2,293.2 L886.8,292.5 L887.4,292.2 L888.0,292.2 L888.6,292.8 L889.2,296.0 L889.8,296.2 L890.4,296.1 L891.0,295.9 L891.6,294.0 L892.2,293.9 L892.8,294.1 L893.4,294.8 L894.0,293.6 L894.6,294.4 L895.2,295.2 L895.8,295.3 L896.4,296.9 L897.0,295.8 L897.6,293.9 L898.2,292.9 L898.8,291.9 L899.4,291.9 L900.0,291.9 L900.6,291.9 L901.2,291.9 L901.8,291.2 L902.4,290.7 L903.0,290.3 L903.6,289.8 L904.2,289.3 L904.8,289.6 L905.4,289.1 L906.0,277.6 L906.6,270.6 L907.2,270.3 L907.8,267.5 L908.4,267.2 L909.0,266.9 L909.6,269.1 L910.2,269.9 L910.8,270.7 L911.4,271.5 L912.0,270.3 L912.6,268.5 L913.2,266.6 L913.8,264.3 L914.4,264.0 L915.0,264.0 L915.6,263.9 L916.2,263.9 L916.8,263.8 L917.4,263.8 L918.0,263.8 L918.6,263.7 L919.2,260.6 L919.8,252.8 L920.4,249.5 L921.0,248.4 L921.6,247.2 L922.2,244.9 L922.8,243.4 L923.4,241.2 L924.0,239.1 L924.6,236.9 L925.2,235.9 L925.8,234.9 L926.4,233.1 L927.0,232.2 L927.6,231.2 L928.2,230.0 L928.8,227.7 L929.4,226.0 L930.0,224.2 L930.6,225.4 L931.2,224.2 L931.8,221.6 L932.4,220.4 L933.0,218.5 L933.6,215.4 L934.2,211.6 L934.8,208.2 L935.4,204.7 L936.0,204.0 L936.6,204.8 L937.2,205.4 L937.8,206.2 L938.4,207.0 L939.0,207.7 L939.6,206.6 L940.2,207.6 L940.8,205.6 L941.4,203.5 L942.0,200.7 L942.6,200.5 L943.2,200.3 L943.8,200.5 L944.4,200.3 L945.0,200.0 L945.6,199.2 L946.2,198.0 L946.8,196.3 L947.4,195.1 L948.0,191.4 L948.6,187.3 L949.2,185.2 L949.8,184.9 L950.4,184.6 L951.0,184.3 L951.6,181.8 L952.2,179.6 L952.8,177.4 L953.4,177.4 L954.0,176.2 L954.6,175.0 L955.2,173.8 L955.8,172.6 L956.4,162.5 L957.0,153.0 L957.6,153.0 L958.2,153.6 L958.8,153.6 L959.4,153.6 L960.0,153.6 L960.6,154.0 L961.2,153.3 L961.8,152.7 L962.4,152.0 L963.0,149.6 L963.6,148.9 L964.2,146.2 L964.8,146.2 L965.4,146.2 L966.0,149.9 L966.6,149.9 L967.2,147.4 L967.8,147.4 L968.4,145.9 L969.0,146.2 L969.6,148.4 L970.2,150.5 L970.8,152.5 L971.4,151.9 L972.0,151.3 L972.6,152.9 L973.2,152.3 L973.8,149.1 L974.4,147.1 L975.0,147.3 L975.6,146.4 L976.2,145.2 L976.8,144.8 L977.4,147.8 L978.0,150.0 L978.6,151.7 L979.2,153.8 L979.8,154.2 L980.4,151.2 L981.0,151.6 L981.6,152.1 L982.2,155.5 L982.8,162.1 L983.4,172.3 L984.0,178.8 L984.6,177.8 L985.2,176.8 L985.8,175.1 L986.4,175.3 L987.0,174.1 L987.6,174.8 L988.2,175.4 L988.8,176.0 L989.1,177.8" stroke="#1a8bc2" clip-path="url(#c2)"/>
<path d="M60.6,347.2 L61.2,347.2 L61.8,348.1 L62.4,348.4 L63.0,348.5 L63.6,348.8 L64.2,348.4 L64.8,348.7 L65.4,348.9 L66.0,350.4 L66.6,350.7 L67.2,350.4 L67.8,349.9 L68.4,349.4 L69.0,349.5 L69.6,348.9 L70.2,347.7 L70.8,346.6 L71.4,345.6 L72.0,342.7 L72.6,341.3 L73.2,339.4 L73.8,338.0 L74.4,336.6 L75.0,335.2 L75.6,333.6 L76.2,333.2 L76.8,331.3 L77.4,329.4 L78.0,327.5 L78.6,325.9 L79.2,324.3 L79.8,322.7 L80.4,319.8 L81.0,318.2 L81.6,315.9 L82.2,312.3 L82.8,310.0 L83.4,306.4 L84.0,304.9 L84.6,305.3 L85.2,304.8 L85.8,304.4 L86.4,303.9 L87.0,303.5 L87.6,303.0 L88.2,302.3 L88.8,301.4 L89.4,300.0 L90.0,298.3 L90.6,296.9 L91.2,295.5 L91.8,291.9 L92.4,290.4 L93.0,288.9 L93.6,287.5 L94.2,286.6 L94.8,288.0 L95.4,289.4 L96.0,290.8 L96.6,292.0 L97.2,292.4 L97.8,293.6 L98.4,293.0 L99.0,291.6 L99.6,290.4 L100.2,288.9 L100.8,287.5 L101.4,280.7 L102.0,272.4 L102.6,261.6 L103.2,252.3 L103.8,250.9 L104.4,249.4 L105.0,248.7 L105.6,248.3 L106.2,247.9 L106.8,248.0 L107.4,246.7 L108.0,245.4 L108.6,244.2 L109.2,242.9 L109.8,241.7 L110.4,240.4 L111.0,242.6 L111.6,240.9 L112.2,238.6 L112.8,236.2 L113.4,233.8 L114.0,230.7 L114.6,229.3 L115.2,227.9 L115.8,226.5 L116.4,226.7 L117.0,227.6 L117.6,228.7 L118.2,229.7 L118.8,224.6 L119.4,221.3 L120.0,221.5 L120.6,221.2 L121.2,220.8 L121.8,220.5 L122.4,219.2 L123.0,219.3 L123.6,221.7 L124.2,224.2 L124.8,223.7 L125.4,223.3 L126.0,222.9 L126.6,222.5 L127.2,233.0 L127.8,230.5 L128.4,229.1 L129.0,229.9 L129.6,228.5 L130.2,228.0 L130.8,228.0 L131.4,228.0 L132.0,225.3 L132.6,225.3 L133.2,229.3 L133.8,231.2 L134.4,233.2 L135.0,235.1 L135.6,237.0 L136.2,238.9 L136.8,235.2 L137.4,220.4 L138.0,218.6 L138.6,215.8 L139.2,214.1 L139.8,212.3 L140.4,208.2 L141.0,200.9 L141.6,197.7 L142.2,198.1 L142.8,196.0 L143.4,197.6 L144.0,201.8 L144.6,203.4 L145.2,203.6 L145.8,203.8 L146.4,205.9 L147.0,206.1 L147.6,206.3 L148.2,206.2 L148.8,207.0 L149.4,207.8 L150.0,206.1 L150.6,206.3 L151.2,205.4 L151.8,204.5 L152.4,203.6 L153.0,205.0 L153.6,202.9 L154.2,198.2 L154.8,199.2 L155.4,200.3 L156.0,201.3 L156.6,202.7 L157.2,203.7 L157.8,197.7 L158.4,183.1 L159.0,181.7 L159.6,180.3 L160.2,178.9 L160.8,172.7 L161.4,173.8 L162.0,174.9 L162.6,176.0 L163.2,174.9 L163.8,176.2 L164.4,175.1 L165.0,177.3 L165.6,179.5 L166.2,181.7 L166.8,182.3 L167.4,183.2 L168.0,184.2 L168.6,185.5 L169.2,212.2 L169.8,211.9 L170.4,211.8 L171.0,211.4 L171.6,211.1 L172.2,222.3 L172.8,221.9 L173.4,221.6 L174.0,219.9 L174.6,219.6 L175.2,209.3 L175.8,208.0 L176.4,206.0 L177.0,204.7 L177.6,203.9 L178.2,205.7 L178.8,207.9 L179.4,209.3 L180.0,208.7 L180.6,208.2 L181.2,211.7 L181.8,217.2 L182.4,221.0 L183.0,222.6 L183.6,224.2 L184.2,225.8 L184.8,227.0 L185.4,227.5 L186.0,226.6 L186.6,225.7 L187.2,224.8 L187.8,223.9 L188.4,221.4 L189.0,220.9 L189.6,220.4 L190.2,220.0 L190.8,219.5 L191.4,219.0 L192.0,216.8 L192.6,214.2 L193.2,212.6 L193.8,215.9 L194.4,219.9 L195.0,221.5 L195.6,215.4 L196.2,213.1 L196.8,213.3 L197.4,213.4 L198.0,213.6 L198.6,216.4 L199.2,218.9 L199.8,221.3 L200.4,221.4 L201.0,222.4 L201.6,222.8 L202.2,223.7 L202.8,222.5 L203.4,223.5 L204.0,223.0 L204.6,219.7 L205.2,216.3 L205.8,218.8 L206.4,223.6 L207.0,226.3 L207.6,227.3 L208.2,228.3 L208.8,229.3 L209.4,229.8 L210.0,229.8 L210.6,229.8 L211.2,227.9 L211.8,227.9 L212.4,222.2 L213.0,211.0 L213.6,206.3 L214.2,206.1 L214.8,205.9 L215.4,206.5 L216.0,208.6 L216.6,213.7 L217.2,213.9 L217.8,213.7 L218.4,213.4 L219.0,213.2 L219.6,213.8 L220.2,213.6 L220.8,214.7 L221.4,217.1 L222.0,219.5 L222.6,217.6 L223.2,215.8 L223.8,214.1 L224.4,209.0 L225.0,206.9 L225.6,206.3 L226.2,205.6 L226.8,205.0 L227.4,204.4 L228.0,203.4 L228.6,204.0 L229.2,206.1 L229.8,204.0 L230.4,201.9 L231.0,199.8 L231.6,201.0 L232.2,202.2 L232.8,203.4 L233.4,202.0 L234.0,201.8 L234.6,200.2 L235.2,198.6 L235.8,195.0 L236.4,195.1 L237.0,197.1 L237.6,197.9 L238.2,198.7 L238.8,194.5 L239.4,190.6 L240.0,188.1 L240.6,185.7 L241.2,187.6 L241.8,189.1 L242.4,190.7 L243.0,191.7 L243.6,190.3 L244.2,187.9 L244.8,188.1 L245.4,188.0 L246.0,189.6 L246.6,189.1 L247.2,187.3 L247.8,185.8 L248.4,184.4 L249.0,184.6 L249.6,185.9 L250.2,187.1 L250.8,186.1 L251.4,186.1 L252.0,186.1 L252.6,186.1 L253.2,186.1 L253.8,187.0 L254.4,188.2 L255.0,193.7 L255.6,193.7 L256.2,193.7 L256.8,192.5 L257.4,192.5 L258.0,192.5 L258.6,192.5 L259.2,191.1 L259.8,191.1 L260.4,191.1 L261.0,191.1 L261.6,192.4 L262.2,190.6 L262.8,188.8 L263.4,187.0 L264.0,189.4 L264.6,192.2 L265.2,194.9 L265.8,195.5 L266.4,194.0 L267.0,192.4 L267.6,191.2 L268.2,190.3 L268.8,188.6 L269.4,187.7 L270.0,188.1 L270.6,186.7 L271.2,184.3 L271.8,181.8 L272.4,182.2 L273.0,183.3 L273.6,183.5 L274.2,181.1 L274.8,179.9 L275.4,180.3 L276.0,179.4 L276.6,178.8 L277.2,176.3 L277.8,175.7 L278.4,175.1 L279.0,174.5 L279.6,174.0 L280.2,175.2 L280.8,175.2 L281.4,175.2 L282.0,175.2 L282.6,174.0 L283.2,174.0 L283.8,180.5 L284.4,182.3 L285.0,184.1 L285.6,185.9 L286.2,184.1 L286.8,179.2 L287.4,178.4 L288.0,178.7 L288.6,178.9 L289.2,188.2 L289.8,197.8 L290.4,199.0 L291.0,200.2 L291.6,204.6 L292.2,203.8 L292.8,202.6 L293.4,202.4 L294.0,204.8 L294.6,207.2 L295.2,209.6 L295.8,211.0 L296.4,211.1 L297.0,211.5 L297.6,211.9 L298.2,207.7 L298.8,202.8 L299.4,198.7 L300.0,198.9 L300.6,199.1 L301.2,199.1 L301.8,200.3 L302.4,203.4 L303.0,206.6 L303.6,209.1 L304.2,208.9 L304.8,209.6 L305.4,209.4 L306.0,209.0 L306.6,209.7 L307.2,208.8 L307.8,209.9 L308.4,211.1 L309.0,211.5 L309.6,212.9 L310.2,214.3 L310.8,218.0 L311.4,219.4 L312.0,220.7 L312.6,222.1 L313.2,223.2 L313.8,223.4 L314.4,222.8 L315.0,222.2 L315.6,221.6 L316.2,220.8 L316.8,222.6 L317.4,224.3 L318.0,227.0 L318.6,229.0 L319.2,231.4 L319.8,233.8 L320.4,236.2 L321.0,235.9 L321.6,232.8 L322.2,228.5 L322.8,226.9 L323.4,226.9 L324.0,226.9 L324.6,226.9 L325.2,228.0 L325.8,229.3 L326.4,230.9 L327.0,230.1 L327.6,231.7 L328.2,233.4 L328.8,236.1 L329.4,237.9 L330.0,239.7 L330.6,238.1 L331.2,235.0 L331.8,232.3 L332.4,230.7 L333.0,230.7 L333.6,229.5 L334.2,229.5 L334.8,230.1 L335.4,230.9 L336.0,231.8 L336.6,232.9 L337.2,236.2 L337.8,237.5 L338.4,239.8 L339.0,241.9 L339.6,242.6 L340.2,244.7 L340.8,245.9 L341.4,246.4 L342.0,246.8 L342.6,248.5 L343.2,248.9 L343.8,248.9 L344.4,249.4 L345.0,249.9 L345.6,250.0 L346.2,250.8 L346.8,251.5 L347.4,252.3 L348.0,253.5 L348.6,254.2 L349.2,255.0 L349.8,252.1 L350.4,248.5 L351.0,244.7 L351.6,241.9 L352.2,243.1 L352.8,244.3 L353.4,245.5 L354.0,246.7 L354.6,247.9 L355.2,246.8 L355.8,248.0 L356.4,249.2 L357.0,250.4 L357.6,253.4 L358.2,255.8 L358.8,258.2 L359.4,260.9 L360.0,263.3 L360.6,265.4 L361.2,267.2 L361.8,268.7 L362.4,270.5 L363.0,270.9 L363.6,270.9 L364.2,270.9 L364.8,272.6 L365.4,274.4 L366.0,276.2 L366.6,277.4 L367.2,278.9 L367.8,280.1 L368.4,281.3 L369.0,281.1 L369.6,281.3 L370.2,281.3 L370.8,283.0 L371.4,283.0 L372.0,282.8 L372.6,283.3 L373.2,284.8 L373.8,286.3 L374.4,287.8 L375.0,288.2 L375.6,287.9 L376.2,287.6 L376.8,287.8 L377.4,291.3 L378.0,295.5 L378.6,296.7 L379.2,297.9 L379.8,300.4 L380.4,301.6 L381.0,302.6 L381.6,303.2 L382.2,303.4 L382.8,304.1 L383.4,304.3 L384.0,304.4 L384.6,304.6 L385.2,303.0 L385.8,303.5 L386.4,305.3 L387.0,307.1 L387.6,308.9 L388.2,310.2 L388.8,311.0 L389.4,311.8 L390.0,313.1 L390.6,313.9 L391.2,314.7 L391.8,315.9 L392.4,317.4 L393.0,318.9 L393.6,320.2 L394.2,321.1 L394.8,321.5 L395.4,322.4 L396.0,323.4 L396.6,329.2 L397.2,334.1 L397.8,339.1 L398.4,338.1 L399.0,338.5 L399.6,338.9 L400.2,339.3 L400.8,339.7 L401.4,341.3 L402.0,342.5 L402.6,343.8 L403.2,345.1 L403.8,345.5 L404.4,340.6 L405.0,336.5 L405.6,337.7 L406.2,338.5 L406.8,339.7 L407.4,340.9 L408.0,341.6 L408.6,342.3 L409.2,342.5 L409.8,341.9 L410.4,342.1 L411.0,343.6 L411.6,344.2 L412.2,344.8 L412.8,345.4 L413.4,346.0 L414.0,345.4 L414.6,345.4 L415.2,346.5 L415.8,346.0 L416.4,346.5 L417.0,346.1 L417.6,344.0 L418.2,344.0 L418.8,343.8 L419.4,343.8 L420.0,343.9 L420.6,344.2 L421.2,344.5 L421.8,345.0 L422.4,345.5 L423.0,345.8 L423.6,345.9 L424.2,343.7 L424.8,341.6 L425.4,337.4 L426.0,335.2 L426.6,333.7 L427.2,333.5 L427.8,333.3 L428.4,335.7 L429.0,335.7 L429.6,336.2 L430.2,336.6 L430.8,337.1 L431.4,338.8 L432.0,339.1 L432.6,338.8 L433.2,338.5 L433.8,337.0 L434.4,336.7 L435.0,336.4 L435.6,335.7 L436.2,335.4 L436.8,335.6 L437.4,336.0 L438.0,336.4 L438.6,337.2 L439.2,337.6 L439.8,336.8 L440.4,336.8 L441.0,337.2 L441.6,337.2 L442.2,337.2 L442.8,336.7 L443.4,336.7 L444.0,336.9 L444.6,336.9 L445.2,338.0 L445.8,338.6 L446.4,339.2 L447.0,339.8 L447.6,341.1 L448.2,341.4 L448.8,341.4 L449.4,341.4 L450.0,340.5 L450.6,340.5 L451.2,340.5 L451.8,341.8 L452.4,341.8 L453.0,340.6 L453.6,340.0 L454.2,339.4 L454.8,338.1 L455.4,338.1 L456.0,338.1 L456.6,338.1 L457.2,338.6 L457.8,338.6 L458.4,338.0 L459.0,337.4 L459.6,335.7 L460.2,335.1 L460.8,334.5 L461.4,334.1 L462.0,334.6 L462.6,335.2 L463.2,335.7 L463.8,336.1 L464.4,336.6 L465.0,336.8 L465.6,336.8 L466.2,336.8 L466.8,338.8 L467.4,338.8 L468.0,339.2 L468.6,341.1 L469.2,342.9 L469.8,343.4 L470.4,344.2 L471.0,344.4 L471.6,344.7 L472.2,344.9 L472.8,344.6 L473.4,344.9 L474.0,345.4 L474.6,346.4 L475.2,347.5 L475.8,349.4 L476.4,350.4 L477.0,351.3 L477.6,351.7 L478.2,352.1 L478.8,349.6 L479.4,350.0 L480.0,350.3 L480.6,350.7 L481.2,351.3 L481.8,351.3 L482.4,351.3 L483.0,353.0 L483.6,353.0 L484.2,353.0 L484.8,352.5 L485.4,352.6 L486.0,353.2 L486.6,353.8 L487.2,354.4 L487.8,357.7 L488.4,358.3 L489.0,358.8 L489.6,357.1 L490.2,357.6 L490.8,359.1 L491.4,359.6 L492.0,360.1 L492.6,360.1 L493.2,359.5 L493.8,359.4 L494.4,359.2 L495.0,359.1 L495.6,359.0 L496.2,358.6 L496.8,359.2 L497.4,359.7 L498.0,360.3 L498.6,360.9 L499.2,361.4 L499.8,362.0 L500.4,363.2 L501.0,364.4 L501.6,364.0 L502.2,365.1 L502.8,365.6 L503.4,366.2 L504.0,366.8 L504.6,367.4 L505.2,368.0 L505.8,369.7 L506.4,370.0 L507.0,370.9 L507.6,371.1 L508.2,371.2 L508.8,371.4 L509.4,370.6 L510.0,371.0 L510.6,371.4 L511.2,371.7 L511.8,373.0 L512.4,373.4 L513.0,373.5 L513.6,375.0 L514.2,374.8 L514.8,374.6 L515.4,373.4 L516.0,373.0 L516.6,372.0 L517.2,371.0 L517.8,369.6 L518.4,369.4 L519.0,370.4 L519.6,371.0 L520.2,371.6 L520.8,372.2 L521.4,372.6 L522.0,371.7 L522.6,371.8 L523.2,371.9 L523.8,373.4 L524.4,373.6 L525.0,374.1 L525.6,373.9 L526.2,373.7 L526.8,373.1 L527.4,372.8 L528.0,372.6 L528.6,372.4 L529.2,372.5 L529.8,370.8 L530.4,371.1 L531.0,371.4 L531.6,371.7 L532.2,371.1 L532.8,370.3 L533.4,369.5 L534.0,369.6 L534.6,370.3 L535.2,370.8 L535.8,371.4 L536.4,371.9 L537.0,372.5 L537.6,373.0 L538.2,373.4 L538.8,373.7 L539.4,374.5 L540.0,374.8 L540.6,375.1 L541.2,375.4 L541.8,375.7 L542.4,374.4 L543.0,374.3 L543.6,374.2 L544.2,374.9 L544.8,374.8 L545.4,374.7 L546.0,376.5 L546.6,376.1 L547.2,375.2 L547.8,374.5 L548.4,373.7 L549.0,373.7 L549.6,374.5 L550.2,373.2 L550.8,374.0 L551.4,374.7 L552.0,377.9 L552.6,380.1 L553.2,380.6 L553.8,381.8 L554.4,382.6 L555.0,384.0 L555.6,384.8 L556.2,385.5 L556.8,385.2 L557.4,384.5 L558.0,383.7 L558.6,382.0 L559.2,382.1 L559.8,383.7 L560.4,384.0 L561.0,382.9 L561.6,383.2 L562.2,383.5 L562.8,383.8 L563.4,383.9 L564.0,382.6 L564.6,381.8 L565.2,381.0 L565.8,380.2 L566.4,383.0 L567.0,384.1 L567.6,384.2 L568.2,385.3 L568.8,385.8 L569.4,385.7 L570.0,384.4 L570.6,384.4 L571.2,384.3 L571.8,384.2 L572.4,385.1 L573.0,385.0 L573.6,385.0 L574.2,386.7 L574.8,386.6 L575.4,386.5 L576.0,386.2 L576.6,385.7 L577.2,383.1 L577.8,382.7 L578.4,382.3 L579.0,382.3 L579.6,382.6 L580.2,383.3 L580.8,383.7 L581.4,384.0 L582.0,384.6 L582.6,385.6 L583.2,386.4 L583.8,387.2 L584.4,385.9 L585.0,385.9 L585.6,386.1 L586.2,386.1 L586.8,386.1 L587.4,386.5 L588.0,387.4 L588.6,388.0 L589.2,388.6 L589.8,390.2 L590.4,390.3 L591.0,390.3 L591.6,390.2 L592.2,390.1 L592.8,390.0 L593.4,389.3 L594.0,389.3 L594.6,389.2 L595.2,389.1 L595.8,388.0 L596.4,387.3 L597.0,386.1 L597.6,384.9 L598.2,384.8 L598.8,384.6 L599.4,385.8 L600.0,385.7 L600.6,385.5 L601.2,381.3 L601.8,376.3 L602.4,377.0 L603.0,377.7 L603.6,378.5 L604.2,379.3 L604.8,379.6 L605.4,379.5 L606.0,379.7 L606.6,380.0 L607.2,380.2 L607.8,380.4 L608.4,380.8 L609.0,380.8 L609.6,380.8 L610.2,380.8 L610.8,378.8 L611.4,378.8 L612.0,378.8 L612.6,382.3 L613.2,383.4 L613.8,383.1 L614.4,382.7 L615.0,382.2 L615.6,381.8 L616.2,381.2 L616.8,380.8 L617.4,381.0 L618.0,381.1 L618.6,382.7 L619.2,382.9 L619.8,383.0 L620.4,381.5 L621.0,380.6 L621.6,379.9 L622.2,378.5 L622.8,378.6 L623.4,378.7 L624.0,378.8 L624.6,378.8 L625.2,378.0 L625.8,378.1 L626.4,378.2 L627.0,378.5 L627.6,379.0 L628.2,380.0 L628.8,380.0 L629.4,379.3 L630.0,378.5 L630.6,378.0 L631.2,378.0 L631.8,378.0 L632.4,378.0 L633.0,377.9 L633.6,377.9 L634.2,376.6 L634.8,376.5 L635.4,376.5 L636.0,376.5 L636.6,376.4 L637.2,378.2 L637.8,378.2 L638.4,378.2 L639.0,378.1 L639.6,377.4 L640.2,376.9 L640.8,376.4 L641.4,375.9 L642.0,375.9 L642.6,375.4 L643.2,374.7 L643.8,374.7 L644.4,374.7 L645.0,374.4 L645.6,373.0 L646.2,372.6 L646.8,372.5 L647.4,373.8 L648.0,375.0 L648.6,375.4 L649.2,376.2 L649.8,376.9 L650.4,377.5 L651.0,378.1 L651.6,375.8 L652.2,373.5 L652.8,371.7 L653.4,370.9 L654.0,370.5 L654.6,369.7 L655.2,368.6 L655.8,369.0 L656.4,369.5 L657.0,369.9 L657.6,371.6 L658.2,371.1 L658.8,369.3 L659.4,367.9 L660.0,366.5 L660.6,366.7 L661.2,367.9 L661.8,368.9 L662.4,369.9 L663.0,370.2 L663.6,370.7 L664.2,371.1 L664.8,371.6 L665.4,372.7 L666.0,373.1 L666.6,373.3 L667.2,373.3 L667.8,373.6 L668.4,373.9 L669.0,373.5 L669.6,373.0 L670.2,370.4 L670.8,370.0 L671.4,371.1 L672.0,370.6 L672.6,370.2 L673.2,368.7 L673.8,368.6 L674.4,370.9 L675.0,370.8 L675.6,370.7 L676.2,370.6 L676.8,370.4 L677.4,370.0 L678.0,369.9 L678.6,369.8 L679.2,368.6 L679.8,368.4 L680.4,367.3 L681.0,363.6 L681.6,359.9 L682.2,359.7 L682.8,359.8 L683.4,359.9 L684.0,360.0 L684.6,360.8 L685.2,360.9 L685.8,361.0 L686.4,361.1 L687.0,360.4 L687.6,359.8 L688.2,359.0 L688.8,358.1 L689.4,358.8 L690.0,359.2 L690.6,359.6 L691.2,360.1 L691.8,360.4 L692.4,358.4 L693.0,358.1 L693.6,357.8 L694.2,357.5 L694.8,357.1 L695.4,356.4 L696.0,356.4 L696.6,357.2 L697.2,357.2 L697.8,357.2 L698.4,358.7 L699.0,359.7 L699.6,360.8 L700.2,361.8 L700.8,362.9 L701.4,361.7 L702.0,361.7 L702.6,361.8 L703.2,361.8 L703.8,362.1 L704.4,362.2 L705.0,362.2 L705.6,362.3 L706.2,362.3 L706.8,361.7 L707.4,361.7 L708.0,361.8 L708.6,363.3 L709.2,363.4 L709.8,364.2 L710.4,364.7 L711.0,365.1 L711.6,365.3 L712.2,364.9 L712.8,363.9 L713.4,362.9 L714.0,360.0 L714.6,359.7 L715.2,359.4 L715.8,361.0 L716.4,360.7 L717.0,359.8 L717.6,360.4 L718.2,361.0 L718.8,361.6 L719.4,362.0 L720.0,360.6 L720.6,360.4 L721.2,360.2 L721.8,360.1 L722.4,360.3 L723.0,362.5 L723.6,363.4 L724.2,363.5 L724.8,363.5 L725.4,363.5 L726.0,362.8 L726.6,362.7 L727.2,362.7 L727.8,365.5 L728.4,365.5 L729.0,365.4 L729.6,365.5 L730.2,365.4 L730.8,365.2 L731.4,364.4 L732.0,363.6 L732.6,362.2 L733.2,361.4 L733.8,360.6 L734.4,359.8 L735.0,359.7 L735.6,357.5 L736.2,357.4 L736.8,357.2 L737.4,357.1 L738.0,355.8 L738.6,355.4 L739.2,356.2 L739.8,355.8 L740.4,355.3 L741.0,354.8 L741.6,354.6 L742.2,355.0 L742.8,355.0 L743.4,355.0 L744.0,355.0 L744.6,355.0 L745.2,355.4 L745.8,355.4 L746.4,355.4 L747.0,355.4 L747.6,355.1 L748.2,353.5 L748.8,352.8 L749.4,352.1 L750.0,351.3 L750.6,350.6 L751.2,349.6 L751.8,349.5 L752.4,349.4 L753.0,349.7 L753.6,349.6 L754.2,349.5 L754.8,347.5 L755.4,347.4 L756.0,347.1 L756.6,346.2 L757.2,345.3 L757.8,345.1 L758.4,344.2 L759.0,343.7 L759.6,343.6 L760.2,343.5 L760.8,343.6 L761.4,343.4 L762.0,343.3 L762.6,343.1 L763.2,342.8 L763.8,342.5 L764.4,342.2 L765.0,342.0 L765.6,341.7 L766.2,341.4 L766.8,340.4 L767.4,339.8 L768.0,338.6 L768.6,337.4 L769.2,336.2 L769.8,335.3 L770.4,335.1 L771.0,336.5 L771.6,336.4 L772.2,336.2 L772.8,336.2 L773.4,335.6 L774.0,335.0 L774.6,334.4 L775.2,334.2 L775.8,333.9 L776.4,334.1 L777.0,336.0 L777.6,336.2 L778.2,331.9 L778.8,332.1 L779.4,332.3 L780.0,331.5 L780.6,331.8 L781.2,331.1 L781.8,330.4 L782.4,330.4 L783.0,330.3 L783.6,330.3 L784.2,330.3 L784.8,330.3 L785.4,330.4 L786.0,330.0 L786.6,330.0 L787.2,330.0 L787.8,331.3 L788.4,331.3 L789.0,332.4 L789.6,334.0 L790.2,335.7 L790.8,337.9 L791.4,337.0 L792.0,336.1 L792.6,335.2 L793.2,335.1 L793.8,334.8 L794.4,334.8 L795.0,334.8 L795.6,334.8 L796.2,334.7 L796.8,333.6 L797.4,331.5 L798.0,329.8 L798.6,329.8 L799.2,329.8 L799.8,331.3 L800.4,331.3 L801.0,331.3 L801.6,328.7 L802.2,326.7 L802.8,323.6 L803.4,320.7 L804.0,318.9 L804.6,317.9 L805.2,317.9 L805.8,318.6 L806.4,319.4 L807.0,320.1 L807.6,318.9 L808.2,317.3 L808.8,315.7 L809.4,313.8 L810.0,313.4 L810.6,314.3 L811.2,313.9 L811.8,313.6 L812.4,313.2 L813.0,315.0 L813.6,315.3 L814.2,315.9 L814.8,314.7 L815.4,315.3 L816.0,315.9 L816.6,316.1 L817.2,316.1 L817.8,316.0 L818.4,316.3 L819.0,316.1 L819.6,316.0 L820.2,314.3 L820.8,312.4 L821.4,310.6 L822.0,308.4 L822.6,309.4 L823.2,312.1 L823.8,313.1 L824.4,313.0 L825.0,313.3 L825.6,313.0 L826.2,312.5 L826.8,312.2 L827.4,311.4 L828.0,309.1 L828.6,308.0 L829.2,307.0 L829.8,308.7 L830.4,308.6 L831.0,308.5 L831.6,308.4 L832.2,308.3 L832.8,306.5 L833.4,306.4 L834.0,306.3 L834.6,306.2 L835.2,307.2 L835.8,306.7 L836.4,308.5 L837.0,308.0 L837.6,307.5 L838.2,307.0 L838.8,304.8 L839.4,306.2 L840.0,310.7 L840.6,312.2 L841.2,313.2 L841.8,314.2 L842.4,314.7 L843.0,314.4 L843.6,315.5 L844.2,315.2 L844.8,312.6 L845.4,312.3 L846.0,312.0 L846.6,311.7 L847.2,312.1 L847.8,310.7 L848.4,309.3 L849.0,307.9 L849.6,305.4 L850.2,305.6 L850.8,305.9 L851.4,306.0 L852.0,306.1 L852.6,306.2 L853.2,307.4 L853.8,308.0 L854.4,308.4 L855.0,309.1 L855.6,309.7 L856.2,307.8 L856.8,307.0 L857.4,306.2 L858.0,305.4 L858.6,306.7 L859.2,306.4 L859.8,306.0 L860.4,305.6 L861.0,305.3 L861.6,305.6 L862.2,304.9 L862.8,303.5 L863.4,301.9 L864.0,300.5 L864.6,299.7 L865.2,299.4 L865.8,297.1 L866.4,296.8 L867.0,296.5 L867.6,296.7 L868.2,297.8 L868.8,298.8 L869.4,299.8 L870.0,300.2 L870.6,300.1 L871.2,299.8 L871.8,299.4 L872.4,299.1 L873.0,299.0 L873.6,298.0 L874.2,298.0 L874.8,298.0 L875.4,299.5 L876.0,299.5 L876.6,297.7 L877.2,297.7 L877.8,297.7 L878.4,297.4 L879.0,296.8 L879.6,297.6 L880.2,297.0 L880.8,296.5 L881.4,295.9 L882.0,295.4 L882.6,295.4 L883.2,295.5 L883.8,295.5 L884.4,295.3 L885.0,294.5 L885.6,294.0 L886.2,293.2 L886.8,292.5 L887.4,292.2 L888.0,292.2 L888.6,292.8 L889.2,296.0 L889.8,296.2 L890.4,296.1 L891.0,295.9 L891.6,294.0 L892.2,293.9 L892.8,294.1 L893.4,294.8 L894.0,293.6 L894.6,294.4 L895.2,295.2 L895.8,295.3 L896.4,296.9 L897.0,295.8 L897.6,293.9 L898.2,292.9 L898.8,291.9 L899.4,291.9 L900.0,291.9 L900.6,291.9 L901.2,291.9 L901.8,291.2 L902.4,290.7 L903.0,290.3 L903.6,289.8 L904.2,289.3 L904.8,289.6 L905.4,289.1 L906.0,277.6 L906.6,270.6 L907.2,270.3 L907.8,267.5 L908.4,267.2 L909.0,266.9 L909.6,269.1 L910.2,269.9 L910.8,270.7 L911.4,271.5 L912.0,270.3 L912.6,268.5 L913.2,266.6 L913.8,264.3 L914.4,264.0 L915.0,264.0 L915.6,263.9 L916.2,263.9 L916.8,263.8 L917.4,263.8 L918.0,263.8 L918.6,263.7 L919.2,260.6 L919.8,252.8 L920.4,249.5 L921.0,248.4 L921.6,247.2 L922.2,244.9 L922.8,243.4 L923.4,241.2 L924.0,239.1 L924.6,236.9 L925.2,235.9 L925.8,234.9 L926.4,233.1 L927.0,232.2 L927.6,231.2 L928.2,230.0 L928.8,227.7 L929.4,226.0 L930.0,224.2 L930.6,225.4 L931.2,224.2 L931.8,221.6 L932.4,220.4 L933.0,218.5 L933.6,215.4 L934.2,211.6 L934.8,208.2 L935.4,204.7 L936.0,204.0 L936.6,204.8 L937.2,205.4 L937.8,206.2 L938.4,207.0 L939.0,207.7 L939.6,206.6 L940.2,207.6 L940.8,205.6 L941.4,203.5 L942.0,200.7 L942.6,200.5 L943.2,200.3 L943.8,200.5 L944.4,200.3 L945.0,200.0 L945.6,199.2 L946.2,198.0 L946.8,196.3 L947.4,195.1 L948.0,191.4 L948.6,187.3 L949.2,185.2 L949.8,184.9 L950.4,184.6 L951.0,184.3 L951.6,181.8 L952.2,179.6 L952.8,177.4 L953.4,177.4 L954.0,176.2 L954.6,175.0 L955.2,173.8 L955.8,172.6 L956.4,162.5 L957.0,153.0 L957.6,153.0 L958.2,153.6 L958.8,153.6 L959.4,153.6 L960.0,153.6 L960.6,154.0 L961.2,153.3 L961.8,152.7 L962.4,152.0 L963.0,149.6 L963.6,148.9 L964.2,146.2 L964.8,146.2 L965.4,146.2 L966.0,149.9 L966.6,149.9 L967.2,147.4 L967.8,147.4 L968.4,145.9 L969.0,146.2 L969.6,148.4 L970.2,150.5 L970.8,152.5 L971.4,151.9 L972.0,151.3 L972.6,152.9 L973.2,152.3 L973.8,149.1 L974.4,147.1 L975.0,147.3 L975.6,146.4 L976.2,145.2 L976.8,144.8 L977.4,147.8 L978.0,150.0 L978.6,151.7 L979.2,153.8 L979.8,154.2 L980.4,151.2 L981.0,151.6 L981.6,152.1 L982.2,155.5 L982.8,162.1 L983.4,172.3 L984.0,178.8 L984.6,177.8 L985.2,176.8 L985.8,175.1 L986.4,175.3 L987.0,174.1 L987.6,174.8 L988.2,175.4 L988.8,176.0 L989.1,177.8" stroke="#0493d0" clip-path="url(#c3)"/>
</g>
<!-- arrows -->
<g stroke="#e2423e" stroke-width="1.6" stroke-dasharray="7.5 2.3" fill="none">
<line x1="304.76" y1="149.07" x2="555.76" y2="338.57"/>
<line x1="303.44" y1="150.83" x2="554.44" y2="340.33"/>
</g>
<polygon points="560.3,332.7 549.9,346.3 567.1,348.6" fill="#e5231f"/>
<g stroke="#1d7c5a" stroke-width="1.6" stroke-dasharray="7.5 2.45" fill="none">
<line x1="688.69" y1="347.86" x2="924.79" y2="158.06"/>
<line x1="687.31" y1="346.14" x2="923.41" y2="156.34"/>
</g>
<polygon points="935.1,147.9 918.6,149.9 929.6,163.5" fill="#0b7a52"/>
<text x="556.3" y="318.2" font-size="15" font-weight="700" fill="#e5272a" textLength="37" lengthAdjust="spacingAndGlyphs">-52%</text>
<text x="837.9" y="165.9" font-size="15" font-weight="700" fill="#0b7a52" textLength="48.2" lengthAdjust="spacingAndGlyphs">+109%</text>
<!-- title -->
<!-- legend boxes -->
<rect x="225" y="67" width="26" height="25" fill="#8e98a4"/>
<rect x="230" y="70.8" width="17.2" height="17.2" fill="#e8fbd8"/>
<rect x="583" y="67" width="24.6" height="25" fill="#8e98a4"/>
<rect x="587" y="70.8" width="17" height="17.2" fill="#fdd9da"/>
<!-- series legends -->
<circle cx="452.45" cy="120.95" r="6.15" fill="#0a93d2"/>
<circle cx="439.8" cy="433.6" r="6.15" fill="#e87722"/>
<text x="154.9" y="32.2" font-size="17.7" font-weight="700" fill="#2a2837" textLength="67.9" lengthAdjust="spacingAndGlyphs">Pre-IPO</text>
<text x="228.6" y="32.2" font-size="17.7" font-weight="700" fill="#2a2837" textLength="92.3" lengthAdjust="spacingAndGlyphs">valuations</text>
<text x="327.7" y="32.2" font-size="17.7" font-weight="700" fill="#2a2837" textLength="26.9" lengthAdjust="spacingAndGlyphs">are</text>
<text x="361" y="32.2" font-size="17.7" font-weight="700" fill="#2a2837" textLength="74.4" lengthAdjust="spacingAndGlyphs">typically</text>
<text x="442.3" y="32.2" font-size="17.7" font-weight="700" fill="#2a2837" textLength="79.8" lengthAdjust="spacingAndGlyphs">inversely</text>
<text x="529.3" y="32.2" font-size="17.7" font-weight="700" fill="#2a2837" textLength="90.8" lengthAdjust="spacingAndGlyphs">correlated</text>
<text x="626.2" y="32.2" font-size="17.7" font-weight="700" fill="#2a2837" textLength="37.8" lengthAdjust="spacingAndGlyphs">with</text>
<text x="670.1" y="32.2" font-size="17.7" font-weight="700" fill="#2a2837" textLength="28.1" lengthAdjust="spacingAndGlyphs">the</text>
<text x="705" y="32.2" font-size="17.7" font-weight="700" fill="#2a2837" textLength="31.5" lengthAdjust="spacingAndGlyphs">Fed</text>
<text x="741.8" y="32.2" font-size="17.7" font-weight="700" fill="#2a2837" textLength="53.3" lengthAdjust="spacingAndGlyphs">Funds</text>
<text x="801.3" y="32.2" font-size="17.7" font-weight="700" fill="#2a2837" textLength="45.0" lengthAdjust="spacingAndGlyphs">Rate:</text>
<text x="257.8" y="84.8" font-size="16" fill="#33323f" textLength="43.5" lengthAdjust="spacingAndGlyphs">Stable</text>
<text x="306.6" y="84.8" font-size="16" fill="#33323f" textLength="14.2" lengthAdjust="spacingAndGlyphs">or</text>
<text x="324.5" y="84.8" font-size="16" fill="#33323f" textLength="39.8" lengthAdjust="spacingAndGlyphs">falling</text>
<text x="369.6" y="84.8" font-size="16" fill="#33323f" textLength="27.6" lengthAdjust="spacingAndGlyphs">rate</text>
<text x="402.6" y="84.8" font-size="16" fill="#33323f" textLength="85.4" lengthAdjust="spacingAndGlyphs">environment</text>
<text x="615.4" y="84.8" font-size="16" fill="#33323f" textLength="40.3" lengthAdjust="spacingAndGlyphs">Rising</text>
<text x="660.5" y="84.8" font-size="16" fill="#33323f" textLength="27.4" lengthAdjust="spacingAndGlyphs">rate</text>
<text x="693.3" y="84.8" font-size="16" fill="#33323f" textLength="85.4" lengthAdjust="spacingAndGlyphs">environment</text>
<text x="463.7" y="127.7" font-size="17.5" font-weight="700" fill="#25232f" textLength="68.1" lengthAdjust="spacingAndGlyphs">Caplight</text>
<text x="537.1" y="127.7" font-size="17.5" font-weight="700" fill="#25232f" textLength="28.2" lengthAdjust="spacingAndGlyphs">Top</text>
<text x="572" y="127.7" font-size="17.5" font-weight="700" fill="#25232f" textLength="19.3" lengthAdjust="spacingAndGlyphs">20</text>
<text x="451.2" y="439.3" font-size="17" font-weight="700" fill="#2d2233" textLength="58.4" lengthAdjust="spacingAndGlyphs">Federal</text>
<text x="515.2" y="439.3" font-size="17" font-weight="700" fill="#2d2233" textLength="46.8" lengthAdjust="spacingAndGlyphs">Funds</text>
<text x="568.1" y="439.3" font-size="17" font-weight="700" fill="#2d2233" textLength="35.8" lengthAdjust="spacingAndGlyphs">Rate</text>
<text x="13.3" y="143.8" font-size="12.5" font-weight="700" fill="#24223a" textLength="32.8" lengthAdjust="spacingAndGlyphs">100%</text>
<text x="20.2" y="247" font-size="12.5" font-weight="700" fill="#24223a" textLength="25.9" lengthAdjust="spacingAndGlyphs">50%</text>
<text x="27.3" y="351.3" font-size="12.5" font-weight="700" fill="#24223a" textLength="18.8" lengthAdjust="spacingAndGlyphs">0%</text>
<text x="14.4" y="454.7" font-size="12.5" font-weight="700" fill="#24223a" textLength="31.7" lengthAdjust="spacingAndGlyphs">-50%</text>
<text x="7.5" y="558.7" font-size="12.5" font-weight="700" fill="#24223a" textLength="38.6" lengthAdjust="spacingAndGlyphs">-100%</text>
<text x="952.6" y="439.5" font-size="12.5" font-weight="700" fill="#24223a" textLength="36.3" lengthAdjust="spacingAndGlyphs">6.00%</text>
<text x="952.6" y="473.5" font-size="12.5" font-weight="700" fill="#24223a" textLength="36.3" lengthAdjust="spacingAndGlyphs">4.00%</text>
<text x="952.6" y="516.2" font-size="12.5" font-weight="700" fill="#24223a" textLength="36.3" lengthAdjust="spacingAndGlyphs">2.00%</text>
<text x="970.8" y="549.6" font-size="12.5" font-weight="700" fill="#24223a" textLength="18.1" lengthAdjust="spacingAndGlyphs">0%</text>
<text x="36.9" y="579.8" font-size="13.2" font-weight="700" fill="#24223a" textLength="49.5" lengthAdjust="spacingAndGlyphs">1/1/2021</text>
<text x="99.1" y="579.8" font-size="13.2" font-weight="700" fill="#24223a" textLength="60.9" lengthAdjust="spacingAndGlyphs">4/25/2021</text>
<text x="173" y="579.8" font-size="13.2" font-weight="700" fill="#24223a" textLength="60.7" lengthAdjust="spacingAndGlyphs">8/27/2021</text>
<text x="252.7" y="579.8" font-size="13.2" font-weight="700" fill="#24223a" textLength="52.1" lengthAdjust="spacingAndGlyphs">1/1/2022</text>
<text x="316.9" y="579.8" font-size="13.2" font-weight="700" fill="#24223a" textLength="63.5" lengthAdjust="spacingAndGlyphs">4/28/2022</text>
<text x="396.9" y="579.8" font-size="13.2" font-weight="700" fill="#24223a" textLength="53.4" lengthAdjust="spacingAndGlyphs">9/1/2022</text>
<text x="470.2" y="579.8" font-size="13.2" font-weight="700" fill="#24223a" textLength="52.0" lengthAdjust="spacingAndGlyphs">1/1/2023</text>
<text x="534.9" y="579.8" font-size="13.2" font-weight="700" fill="#24223a" textLength="64.0" lengthAdjust="spacingAndGlyphs">4/29/2023</text>
<text x="614.4" y="579.8" font-size="13.2" font-weight="700" fill="#24223a" textLength="53.8" lengthAdjust="spacingAndGlyphs">9/1/2023</text>
<text x="687.3" y="579.8" font-size="13.2" font-weight="700" fill="#24223a" textLength="52.8" lengthAdjust="spacingAndGlyphs">1/1/2024</text>
<text x="751.8" y="579.8" font-size="13.2" font-weight="700" fill="#24223a" textLength="63.6" lengthAdjust="spacingAndGlyphs">4/27/2024</text>
<text x="827.4" y="579.8" font-size="13.2" font-weight="700" fill="#24223a" textLength="62.4" lengthAdjust="spacingAndGlyphs">8/31/2024</text>
<text x="905.6" y="579.8" font-size="13.2" font-weight="700" fill="#24223a" textLength="51.9" lengthAdjust="spacingAndGlyphs">1/1/2025</text>
</svg>
</body></html>
